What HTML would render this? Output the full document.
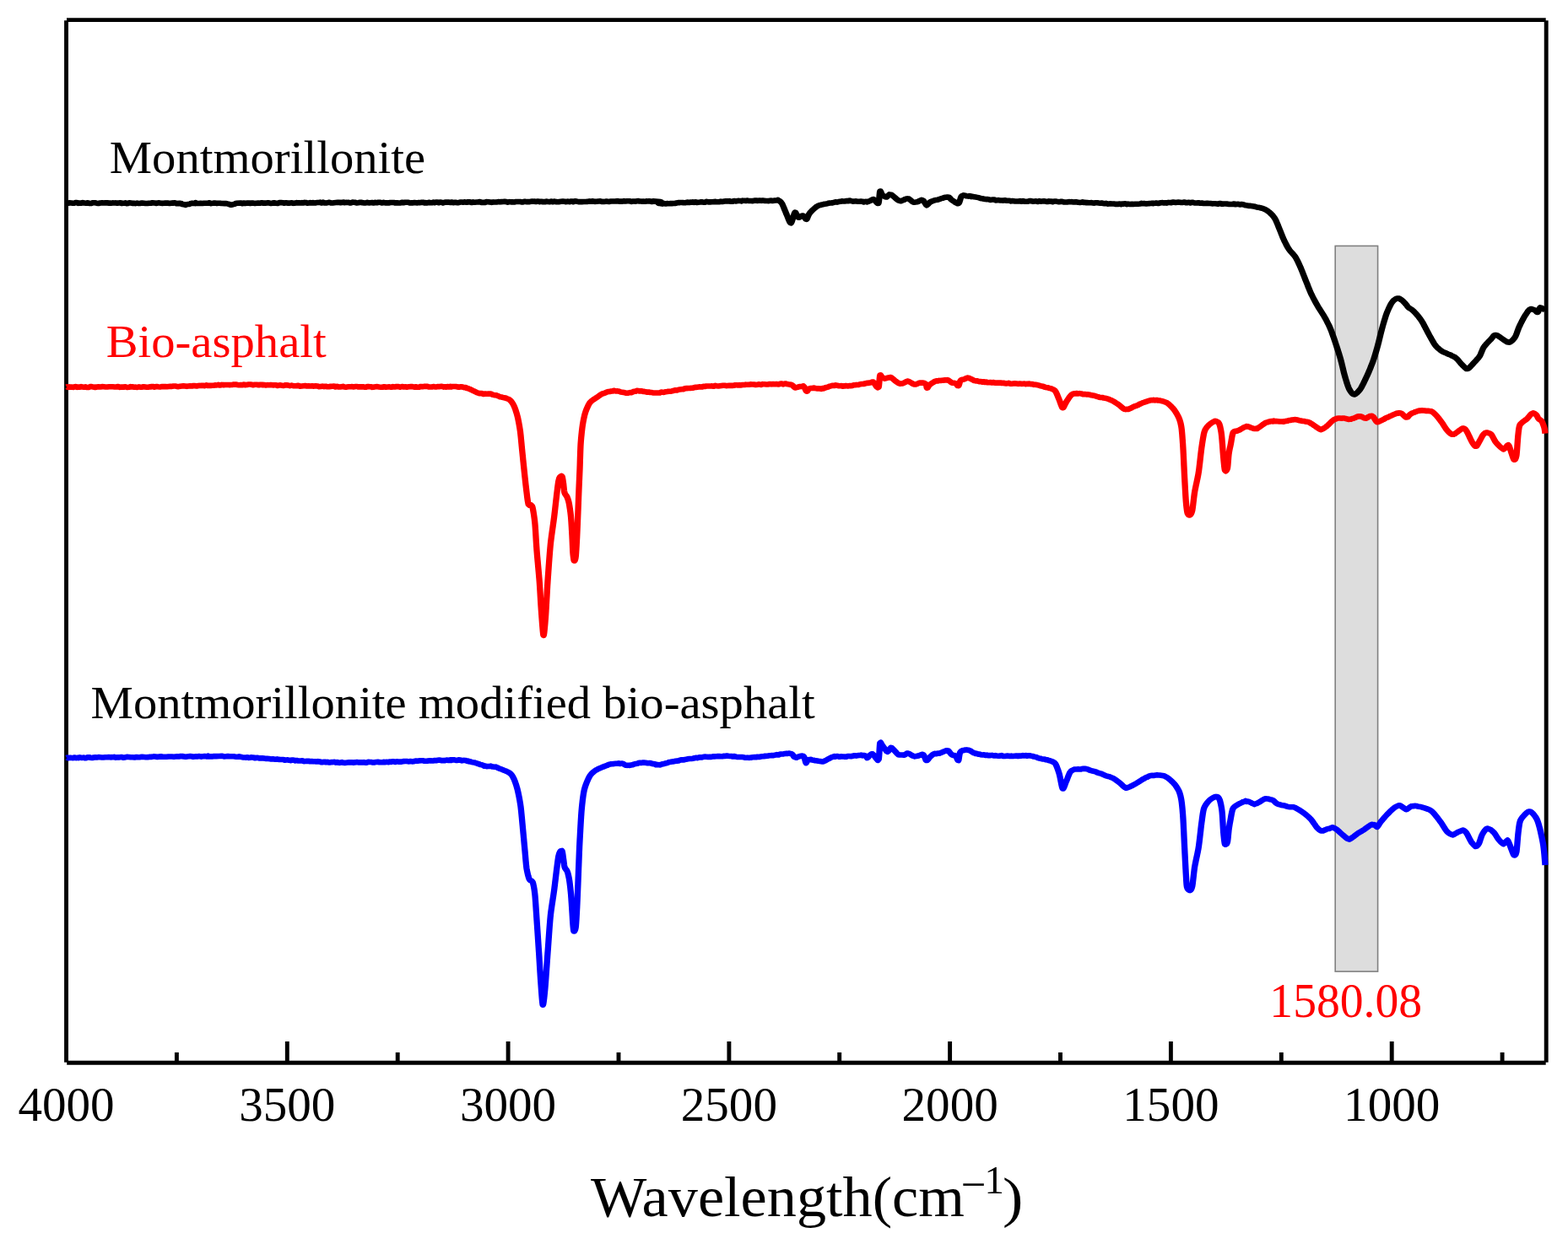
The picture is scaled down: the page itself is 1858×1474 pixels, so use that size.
<!DOCTYPE html>
<html><head><meta charset="utf-8"><title>FTIR spectra</title>
<style>
html,body{margin:0;padding:0;background:#fff;}
body{width:1858px;height:1474px;overflow:hidden;}
svg{display:block;}
text{font-family:"Liberation Serif","Times New Roman",serif;}
</style></head>
<body>
<svg width="1858" height="1474" viewBox="0 0 1858 1474">
<rect x="0" y="0" width="1858" height="1474" fill="#fff"/>
<rect x="1582.2" y="291.4" width="50.4" height="859.7" fill="#dddddd" stroke="#808080" stroke-width="1.6"/>
<g stroke="#000" stroke-width="4.9" fill="none" stroke-linecap="butt">
<line x1="79.0" y1="23.6" x2="1831.7" y2="23.6"/>
<line x1="79.2" y1="1259.2" x2="1831.7" y2="1259.2"/>
<line x1="78.55" y1="24.2" x2="78.55" y2="1258.7"/>
<line x1="1832.2" y1="24.2" x2="1832.2" y2="1258.7"/>
<line x1="340.3" y1="1259.2" x2="340.3" y2="1234"/>
<line x1="602.1" y1="1259.2" x2="602.1" y2="1234"/>
<line x1="863.9" y1="1259.2" x2="863.9" y2="1234"/>
<line x1="1125.6" y1="1259.2" x2="1125.6" y2="1234"/>
<line x1="1387.4" y1="1259.2" x2="1387.4" y2="1234"/>
<line x1="1649.2" y1="1259.2" x2="1649.2" y2="1234"/>
<line x1="209.4" y1="1259.2" x2="209.4" y2="1247"/>
<line x1="471.2" y1="1259.2" x2="471.2" y2="1247"/>
<line x1="733.0" y1="1259.2" x2="733.0" y2="1247"/>
<line x1="994.7" y1="1259.2" x2="994.7" y2="1247"/>
<line x1="1256.5" y1="1259.2" x2="1256.5" y2="1247"/>
<line x1="1518.3" y1="1259.2" x2="1518.3" y2="1247"/>
<line x1="1780.1" y1="1259.2" x2="1780.1" y2="1247"/>
</g>
<g><g fill="none" stroke-linejoin="round" stroke-linecap="butt" stroke-width="6.6" transform="scale(1.11,1)">
<path stroke="#000" d="M70.72,240.50 L71.40,240.17 L72.20,240.82 L73.09,240.74 L74.08,240.29 L75.17,240.51 L76.34,240.47 L77.60,240.66 L78.94,240.79 L80.35,240.17 L81.82,240.11 L83.37,240.84 L84.97,240.49 L86.62,240.79 L88.33,240.11 L90.08,240.52 L91.86,240.77 L93.69,240.33 L95.54,240.98 L97.42,240.95 L99.32,240.18 L101.23,240.18 L103.15,240.65 L105.08,241.01 L107.01,240.52 L108.93,240.37 L110.85,240.56 L112.75,240.22 L114.63,240.40 L116.49,240.60 L118.32,240.65 L120.11,240.42 L121.87,240.43 L123.58,240.42 L125.24,240.64 L126.86,240.49 L128.41,240.26 L129.90,240.99 L131.32,240.74 L132.67,240.82 L133.95,240.42 L135.14,241.14 L136.55,241.03 L138.04,240.36 L139.59,240.55 L141.19,240.90 L142.85,240.89 L144.55,241.09 L146.29,240.63 L148.06,241.00 L149.87,240.85 L151.69,240.52 L153.54,240.77 L155.40,241.03 L157.26,241.00 L159.13,240.69 L160.99,240.76 L162.84,240.26 L164.68,240.44 L166.50,240.94 L168.29,240.59 L170.05,240.37 L171.77,240.71 L173.45,240.85 L175.08,240.82 L176.66,240.55 L178.18,240.61 L179.63,240.67 L181.02,240.92 L182.33,240.69 L183.55,240.58 L184.70,240.67 L185.75,240.26 L186.70,240.28 L187.55,240.87 L188.29,241.12 L192.16,240.89 L193.23,240.95 L193.08,241.20 L193.33,241.40 L194.47,241.97 L195.78,242.20 L197.08,242.39 L198.20,242.82 L199.30,242.18 L200.57,242.05 L201.85,241.94 L202.97,241.45 L203.70,241.18 L204.34,240.83 L205.58,240.84 L208.11,241.09 L208.95,240.25 L210.01,240.94 L211.28,240.97 L212.72,241.03 L214.31,240.91 L216.02,240.98 L217.82,240.73 L219.69,240.78 L221.59,240.67 L223.51,240.36 L225.42,241.10 L227.29,240.85 L229.08,240.54 L230.79,240.83 L232.37,240.83 L233.80,240.73 L235.06,240.74 L236.11,240.92 L236.94,241.01 L239.79,241.09 L240.68,241.09 L241.44,241.00 L242.62,241.41 L244.05,241.78 L245.48,242.39 L246.67,242.82 L247.77,242.56 L249.00,242.20 L250.24,241.85 L251.35,241.26 L251.56,241.27 L251.36,241.29 L252.50,240.73 L256.76,240.58 L257.51,240.56 L258.37,241.20 L259.35,240.74 L260.43,240.60 L261.61,241.05 L262.88,240.78 L264.23,240.52 L265.67,240.59 L267.17,240.90 L268.75,240.56 L270.39,240.64 L272.08,241.01 L273.83,240.76 L275.62,240.63 L277.44,240.74 L279.30,240.32 L281.19,240.63 L283.10,240.64 L285.02,240.41 L286.95,240.32 L288.88,241.01 L290.81,240.64 L292.73,240.36 L294.63,240.69 L296.51,240.86 L298.37,240.14 L300.19,240.12 L301.98,240.21 L303.72,240.71 L305.41,240.19 L307.04,240.66 L308.61,240.62 L310.11,240.49 L311.54,240.19 L312.89,240.85 L314.15,240.68 L315.32,240.41 L316.74,240.14 L318.17,240.50 L319.60,240.26 L321.02,240.41 L322.45,240.17 L323.88,240.42 L325.32,239.90 L326.76,240.10 L328.21,240.67 L329.67,240.57 L331.13,240.05 L332.61,240.52 L334.10,240.02 L335.60,240.56 L337.11,240.37 L338.64,240.07 L340.18,239.91 L341.74,239.67 L343.32,240.43 L344.92,239.67 L346.54,240.35 L348.18,240.47 L349.84,240.11 L351.53,239.74 L353.24,240.36 L354.98,240.44 L356.74,240.19 L358.54,240.01 L360.36,239.89 L361.34,239.86 L362.36,239.73 L363.42,240.15 L364.53,239.94 L365.68,239.72 L366.88,239.64 L368.11,240.15 L369.38,239.82 L370.68,240.00 L372.02,239.85 L373.40,240.34 L374.80,240.37 L376.24,239.58 L377.71,239.75 L379.21,239.87 L380.73,240.46 L382.28,240.28 L383.85,239.89 L385.45,239.78 L387.07,240.20 L388.71,240.35 L390.37,240.44 L392.04,239.92 L393.74,240.41 L395.45,240.24 L397.17,240.06 L398.90,240.52 L400.65,239.85 L402.40,240.29 L404.17,239.72 L405.94,239.80 L407.72,240.47 L409.50,239.85 L411.28,240.35 L413.07,240.21 L414.86,240.43 L416.64,240.00 L418.43,239.98 L420.21,239.94 L421.98,240.46 L423.75,240.23 L425.52,240.54 L427.27,240.48 L429.01,239.81 L430.74,240.18 L432.46,239.78 L434.17,239.72 L435.86,239.75 L437.53,240.46 L439.18,240.39 L440.82,240.42 L442.43,239.98 L444.02,240.22 L445.59,240.37 L447.13,240.00 L448.65,240.16 L449.76,239.85 L450.90,239.71 L452.07,239.87 L453.28,240.42 L454.51,240.12 L455.78,240.44 L457.07,240.01 L458.39,239.84 L459.74,240.29 L461.11,240.31 L462.51,239.57 L463.94,240.15 L465.38,239.62 L466.85,239.63 L468.35,240.30 L469.86,239.54 L471.39,239.70 L472.95,240.35 L474.52,239.83 L476.11,239.55 L477.72,239.58 L479.34,239.63 L480.98,240.06 L482.64,239.47 L484.31,240.18 L485.99,239.69 L487.69,240.20 L489.39,240.12 L491.11,239.56 L492.84,239.51 L494.58,239.69 L496.32,239.34 L498.08,239.81 L499.84,239.25 L501.61,239.20 L503.38,240.05 L505.16,239.42 L506.94,239.67 L508.72,239.52 L510.51,239.38 L512.29,239.14 L514.08,239.88 L515.87,239.91 L517.66,239.89 L519.44,239.11 L521.22,239.19 L523.00,239.53 L524.78,239.83 L526.55,239.42 L528.31,239.53 L530.07,239.49 L531.82,239.12 L533.56,239.35 L535.29,239.13 L537.01,239.06 L538.72,238.89 L540.43,239.05 L542.11,239.66 L543.79,239.17 L545.45,239.34 L547.10,239.31 L548.73,239.56 L550.34,239.06 L551.94,238.97 L553.52,238.98 L555.09,238.95 L556.63,239.41 L558.15,239.44 L559.65,238.90 L561.13,238.92 L562.59,239.10 L564.02,239.12 L565.43,239.12 L566.82,238.80 L568.17,238.59 L569.51,238.78 L570.81,238.62 L572.09,239.04 L573.41,238.60 L574.76,238.60 L576.16,239.09 L577.59,238.77 L579.05,239.21 L580.55,238.94 L582.08,239.26 L583.64,238.62 L585.23,238.92 L586.85,239.17 L588.49,238.52 L590.17,239.29 L591.87,238.59 L593.59,239.12 L595.33,239.29 L597.10,239.14 L598.88,238.68 L600.68,238.48 L602.51,238.84 L604.34,239.19 L606.20,238.62 L608.06,239.15 L609.94,238.46 L611.84,239.14 L613.74,238.35 L615.65,238.59 L617.57,239.11 L619.49,239.01 L621.42,239.09 L623.36,239.03 L625.29,238.93 L627.23,238.87 L629.17,238.41 L631.11,238.63 L633.05,238.37 L634.98,238.86 L636.91,238.81 L638.83,238.43 L640.75,238.26 L642.66,239.05 L644.56,238.91 L646.45,238.67 L648.32,238.65 L650.19,238.93 L652.04,238.56 L653.87,238.51 L655.69,238.45 L657.49,238.37 L659.27,238.16 L661.03,238.71 L662.77,238.50 L664.49,238.63 L666.18,238.17 L667.85,238.43 L669.49,238.23 L671.10,238.22 L672.68,238.34 L674.24,238.85 L675.76,238.46 L677.25,238.46 L678.71,238.65 L680.13,238.31 L681.51,238.10 L682.86,238.57 L684.17,238.55 L685.44,238.68 L686.67,238.49 L687.85,238.72 L689.00,238.76 L690.09,238.32 L691.15,238.56 L692.15,238.55 L693.11,238.32 L694.01,238.50 L694.87,238.63 L695.67,238.95 L696.42,238.96 L697.12,238.41 L705.18,239.05 L705.90,239.46 L703.62,239.85 L702.70,240.50 L703.61,240.96 L704.52,240.73 L705.64,241.36 L707.16,241.61 L709.28,241.13 L710.12,241.44 L711.07,241.53 L712.13,241.07 L713.29,241.27 L714.56,241.22 L715.92,241.01 L717.37,241.13 L718.91,241.06 L720.53,241.00 L722.23,240.57 L724.00,240.13 L725.84,240.08 L727.74,239.94 L729.70,240.14 L731.72,240.20 L733.78,239.52 L734.74,240.02 L735.80,240.01 L736.95,239.65 L738.19,239.75 L739.51,239.41 L740.92,239.85 L742.39,239.20 L743.94,239.96 L745.54,239.76 L747.20,239.55 L748.92,239.19 L750.67,239.69 L752.47,239.67 L754.30,238.90 L756.16,239.40 L758.04,239.40 L759.94,239.18 L761.85,239.16 L763.76,238.88 L765.67,239.24 L767.58,239.22 L769.48,238.65 L771.36,238.96 L773.22,238.59 L775.05,238.30 L776.85,238.39 L778.60,238.16 L780.32,238.79 L781.98,238.79 L783.59,238.02 L785.13,238.39 L786.61,238.18 L788.01,237.89 L789.34,238.01 L790.58,237.94 L791.74,238.34 L792.79,237.67 L794.51,237.79 L796.28,237.97 L798.08,237.56 L799.91,238.06 L801.75,238.01 L803.60,238.19 L805.46,237.60 L807.30,237.65 L809.12,237.85 L810.92,237.59 L812.68,237.85 L814.39,237.53 L816.05,237.89 L817.65,237.97 L819.17,237.97 L820.61,238.10 L821.96,237.71 L823.21,237.64 L824.35,237.95 L825.37,237.86 L826.27,237.68 L827.03,237.50 L829.98,237.24 L830.36,236.88 L830.63,237.50 L831.52,237.73 L832.58,238.51 L833.67,239.53 L834.68,241.00 L835.10,241.85 L835.58,243.00 L836.12,244.36 L836.69,245.88 L837.28,247.50 L837.87,249.13 L838.45,250.73 L838.99,252.21 L839.48,253.53 L839.91,254.60 L840.50,256.14 L841.14,257.95 L841.82,259.84 L842.50,261.62 L843.16,263.09 L843.78,264.05 L844.32,264.30 L844.75,263.80 L845.22,262.66 L845.73,261.06 L846.26,259.19 L846.80,257.20 L847.32,255.28 L847.82,253.61 L848.26,252.36 L848.65,251.70 L849.30,251.91 L850.00,253.20 L850.72,254.98 L851.45,256.62 L852.16,257.61 L853.31,257.60 L854.77,256.51 L856.24,255.60 L857.39,255.56 L858.30,256.40 L859.23,258.02 L860.13,259.51 L860.90,259.90 L861.36,259.47 L861.84,258.39 L862.35,256.96 L862.92,255.39 L863.57,253.87 L864.32,252.60 L865.06,251.67 L866.01,250.55 L867.12,249.31 L868.34,248.02 L869.60,246.77 L870.84,245.61 L872.02,244.63 L873.06,243.93 L874.24,243.35 L875.54,243.01 L876.97,242.52 L878.50,242.20 L880.13,241.82 L881.83,241.54 L883.60,241.07 L884.60,240.71 L885.79,240.44 L887.13,240.53 L888.60,240.40 L890.18,239.91 L891.83,239.36 L893.53,239.60 L895.25,239.09 L896.97,238.84 L898.65,238.30 L900.27,238.47 L901.81,238.49 L903.23,238.11 L904.50,237.98 L905.79,238.21 L907.23,237.67 L908.80,238.15 L910.46,238.60 L912.18,238.50 L913.94,238.39 L915.70,238.75 L917.43,238.82 L919.10,238.62 L920.68,238.73 L922.14,239.38 L923.45,238.91 L924.58,238.75 L925.50,239.34 L927.49,238.69 L929.08,237.86 L930.36,237.04 L931.45,236.49 L932.43,236.00 L933.51,236.92 L934.70,238.37 L935.88,239.94 L936.91,240.97 L937.66,241.01 L937.92,240.31 L938.15,239.12 L938.35,237.54 L938.53,235.71 L938.69,233.75 L938.84,231.79 L938.99,229.96 L939.14,228.38 L939.29,227.19 L939.46,226.50 L939.99,226.58 L940.64,228.08 L941.36,229.99 L942.07,231.30 L943.35,232.24 L944.96,233.18 L946.40,233.51 L947.32,232.69 L948.34,231.51 L949.50,230.36 L950.81,230.65 L951.66,230.79 L952.75,231.70 L954.01,232.88 L955.37,234.19 L956.76,235.51 L958.10,236.70 L959.33,237.53 L960.36,237.86 L961.71,238.25 L963.25,237.52 L964.86,236.89 L966.45,235.89 L967.90,235.50 L969.10,235.37 L970.19,235.58 L971.36,236.50 L972.57,237.60 L973.77,238.70 L974.94,239.47 L976.04,239.76 L977.29,239.58 L978.84,239.31 L980.53,238.64 L982.19,237.61 L983.66,236.90 L984.77,237.21 L985.80,237.84 L986.75,239.27 L987.64,240.92 L988.45,242.32 L989.19,243.23 L990.11,242.62 L991.14,241.49 L992.27,240.13 L993.51,239.08 L994.60,238.62 L996.01,238.05 L997.62,237.42 L999.28,236.94 L1000.88,236.80 L1002.25,236.18 L1003.46,235.83 L1004.91,235.12 L1006.49,234.80 L1008.09,234.06 L1009.60,233.74 L1010.90,233.67 L1011.89,233.64 L1013.14,233.74 L1014.18,234.86 L1015.16,236.09 L1016.22,237.10 L1017.17,237.78 L1018.40,238.72 L1019.77,239.74 L1021.14,240.47 L1022.34,241.25 L1023.24,241.08 L1023.88,240.21 L1024.44,238.72 L1024.95,236.84 L1025.47,234.93 L1026.03,233.30 L1026.67,232.30 L1027.58,231.74 L1028.67,231.33 L1030.01,231.71 L1031.67,232.24 L1033.69,232.59 L1034.60,232.11 L1035.69,232.34 L1036.96,233.11 L1038.37,232.86 L1039.89,233.33 L1041.51,233.55 L1043.18,233.88 L1044.90,234.19 L1046.64,234.94 L1048.36,235.35 L1050.04,235.62 L1051.65,236.01 L1053.18,236.13 L1054.59,236.12 L1055.76,236.44 L1057.02,236.84 L1058.37,236.72 L1059.80,236.54 L1061.30,236.52 L1062.86,237.36 L1064.46,237.21 L1066.10,237.13 L1067.77,237.46 L1069.45,237.54 L1071.14,237.61 L1072.83,237.33 L1074.50,237.67 L1076.14,237.81 L1077.75,237.71 L1079.31,238.36 L1080.81,238.04 L1081.95,238.28 L1083.18,238.37 L1084.50,238.43 L1085.89,238.44 L1087.36,238.50 L1088.89,238.09 L1090.48,238.75 L1092.11,238.05 L1093.78,238.75 L1095.49,238.72 L1097.22,238.74 L1098.97,238.05 L1100.73,238.10 L1102.49,238.76 L1104.24,238.48 L1105.98,238.41 L1107.70,238.98 L1109.38,238.16 L1111.04,238.62 L1112.64,238.57 L1114.20,238.31 L1115.69,238.58 L1117.12,238.88 L1118.30,239.06 L1119.58,238.34 L1120.93,238.81 L1122.36,238.46 L1123.85,239.12 L1125.40,238.53 L1127.01,238.52 L1128.66,238.87 L1130.34,239.21 L1132.07,238.89 L1133.81,238.78 L1135.57,239.40 L1137.35,239.46 L1139.13,239.54 L1140.91,239.11 L1142.68,239.26 L1144.43,239.16 L1146.16,239.48 L1147.86,239.33 L1149.53,239.38 L1151.15,239.82 L1152.72,240.01 L1154.24,239.74 L1155.69,239.38 L1157.07,239.89 L1158.37,239.77 L1159.59,240.27 L1160.72,240.09 L1162.18,240.25 L1163.66,240.21 L1165.17,240.16 L1166.69,240.55 L1168.24,240.60 L1169.79,240.27 L1171.36,240.27 L1172.94,240.56 L1174.52,240.80 L1176.11,240.58 L1177.69,240.90 L1179.27,241.20 L1180.84,240.87 L1182.41,241.61 L1183.96,241.57 L1185.49,241.38 L1187.00,241.45 L1188.49,241.56 L1189.95,241.59 L1191.39,241.99 L1192.79,241.80 L1193.96,241.83 L1195.23,241.49 L1196.59,242.17 L1198.04,241.63 L1199.55,241.60 L1201.13,241.35 L1202.77,242.11 L1204.45,241.63 L1206.17,241.96 L1207.93,241.92 L1209.71,241.91 L1211.50,241.72 L1213.30,241.75 L1215.10,241.69 L1216.89,241.52 L1218.66,240.89 L1220.40,241.16 L1222.11,241.15 L1223.77,241.45 L1225.39,241.21 L1226.94,241.09 L1228.43,241.07 L1229.83,240.69 L1231.16,241.15 L1232.39,240.86 L1233.51,240.62 L1234.99,240.63 L1236.48,241.02 L1237.98,240.58 L1239.49,240.21 L1241.00,240.14 L1242.53,240.54 L1244.06,240.37 L1245.60,240.60 L1247.15,239.92 L1248.69,240.06 L1250.24,240.28 L1251.79,239.64 L1253.35,239.64 L1254.90,239.99 L1256.45,239.72 L1258.00,239.55 L1259.54,239.68 L1261.08,240.01 L1262.61,239.92 L1263.71,239.54 L1264.92,239.56 L1266.24,240.27 L1267.65,240.13 L1269.15,239.77 L1270.73,240.41 L1272.37,239.74 L1274.07,240.09 L1275.82,240.57 L1277.61,240.52 L1279.44,240.22 L1281.28,240.81 L1283.14,240.63 L1285.00,240.93 L1286.85,241.03 L1288.69,240.71 L1290.50,240.99 L1292.28,240.96 L1294.02,241.37 L1295.71,241.32 L1297.33,241.32 L1298.88,241.46 L1300.36,241.68 L1301.75,241.11 L1303.03,241.12 L1304.21,241.63 L1305.28,241.69 L1306.22,241.51 L1308.37,241.57 L1310.40,241.58 L1312.30,242.06 L1314.09,242.05 L1315.76,241.94 L1317.32,241.54 L1318.78,242.30 L1320.15,242.03 L1321.41,241.88 L1322.60,242.05 L1323.69,242.45 L1325.20,242.05 L1326.76,242.33 L1328.36,242.68 L1329.94,243.33 L1331.47,243.45 L1332.90,243.84 L1334.20,243.74 L1335.32,243.95 L1336.76,244.19 L1338.31,244.48 L1339.90,244.82 L1341.44,245.34 L1342.85,245.75 L1344.05,245.75 L1345.47,246.30 L1347.04,246.66 L1348.65,247.25 L1350.13,247.97 L1351.35,248.62 L1352.49,249.38 L1353.74,250.37 L1355.00,251.48 L1356.16,252.60 L1357.12,253.60 L1357.99,254.62 L1358.92,255.83 L1359.87,257.16 L1360.76,258.57 L1361.53,260.00 L1362.00,261.04 L1362.53,262.33 L1363.09,263.80 L1363.68,265.38 L1364.26,266.99 L1364.83,268.59 L1365.37,270.08 L1365.86,271.40 L1366.29,272.59 L1366.79,273.97 L1367.33,275.48 L1367.90,277.06 L1368.49,278.68 L1369.06,280.26 L1369.63,281.76 L1370.15,283.12 L1370.63,284.30 L1371.18,285.58 L1371.80,286.98 L1372.47,288.47 L1373.18,289.98 L1373.90,291.47 L1374.62,292.89 L1375.30,294.18 L1375.95,295.30 L1376.65,296.36 L1377.49,297.50 L1378.43,298.69 L1379.41,299.91 L1380.40,301.13 L1381.34,302.34 L1382.18,303.50 L1382.88,304.60 L1383.45,305.63 L1384.04,306.80 L1384.65,308.09 L1385.27,309.46 L1385.89,310.88 L1386.51,312.33 L1387.10,313.77 L1387.67,315.17 L1388.20,316.50 L1388.61,317.56 L1389.08,318.81 L1389.58,320.19 L1390.13,321.69 L1390.69,323.26 L1391.26,324.88 L1391.83,326.50 L1392.40,328.09 L1392.94,329.62 L1393.45,331.05 L1393.91,332.36 L1394.32,333.50 L1394.80,334.82 L1395.31,336.24 L1395.84,337.73 L1396.39,339.27 L1396.95,340.83 L1397.51,342.38 L1398.06,343.89 L1398.61,345.33 L1399.14,346.68 L1399.64,347.90 L1400.17,349.14 L1400.79,350.51 L1401.47,352.00 L1402.19,353.55 L1402.95,355.14 L1403.71,356.72 L1404.46,358.27 L1405.19,359.74 L1405.87,361.09 L1406.49,362.30 L1407.12,363.49 L1407.85,364.80 L1408.65,366.20 L1409.49,367.66 L1410.35,369.14 L1411.21,370.62 L1412.05,372.07 L1412.83,373.45 L1413.54,374.74 L1414.14,375.90 L1414.72,377.05 L1415.34,378.32 L1415.99,379.67 L1416.65,381.08 L1417.32,382.53 L1417.98,384.00 L1418.62,385.45 L1419.22,386.87 L1419.77,388.23 L1420.27,389.50 L1420.67,390.60 L1421.11,391.83 L1421.56,393.19 L1422.04,394.63 L1422.52,396.14 L1423.01,397.69 L1423.50,399.26 L1423.98,400.81 L1424.44,402.33 L1424.89,403.78 L1425.30,405.15 L1425.68,406.40 L1426.02,407.56 L1426.41,408.85 L1426.82,410.23 L1427.25,411.70 L1427.69,413.22 L1428.15,414.79 L1428.60,416.37 L1429.05,417.95 L1429.49,419.51 L1429.91,421.03 L1430.30,422.48 L1430.67,423.84 L1430.99,425.10 L1431.28,426.29 L1431.60,427.61 L1431.93,429.05 L1432.27,430.57 L1432.61,432.15 L1432.97,433.78 L1433.32,435.42 L1433.68,437.05 L1434.03,438.66 L1434.37,440.21 L1434.70,441.68 L1435.01,443.05 L1435.31,444.30 L1435.59,445.40 L1435.98,446.90 L1436.41,448.53 L1436.87,450.24 L1437.35,451.99 L1437.85,453.73 L1438.34,455.41 L1438.84,456.99 L1439.31,458.43 L1439.76,459.68 L1440.18,460.70 L1440.92,462.23 L1441.79,463.77 L1442.73,465.21 L1443.69,466.39 L1444.63,467.10 L1445.50,467.34 L1446.28,467.33 L1447.22,466.68 L1448.26,465.82 L1449.35,464.71 L1450.42,463.44 L1451.44,462.08 L1452.34,460.70 L1452.86,459.79 L1453.45,458.65 L1454.10,457.34 L1454.78,455.89 L1455.49,454.33 L1456.21,452.70 L1456.93,451.05 L1457.63,449.41 L1458.30,447.82 L1458.93,446.31 L1459.50,444.92 L1460.00,443.70 L1460.48,442.50 L1460.99,441.19 L1461.53,439.79 L1462.09,438.31 L1462.65,436.79 L1463.22,435.25 L1463.77,433.71 L1464.31,432.19 L1464.82,430.71 L1465.30,429.31 L1465.74,428.00 L1466.13,426.80 L1466.49,425.61 L1466.88,424.32 L1467.27,422.94 L1467.68,421.49 L1468.09,419.99 L1468.50,418.47 L1468.91,416.94 L1469.30,415.41 L1469.69,413.92 L1470.05,412.47 L1470.40,411.09 L1470.72,409.80 L1471.00,408.66 L1471.30,407.37 L1471.62,405.97 L1471.95,404.47 L1472.30,402.90 L1472.66,401.29 L1473.02,399.65 L1473.38,398.01 L1473.73,396.40 L1474.08,394.83 L1474.42,393.33 L1474.74,391.93 L1475.04,390.64 L1475.32,389.50 L1475.64,388.19 L1475.99,386.78 L1476.37,385.29 L1476.77,383.74 L1477.18,382.17 L1477.60,380.59 L1478.02,379.03 L1478.43,377.53 L1478.83,376.09 L1479.22,374.76 L1479.58,373.55 L1479.91,372.50 L1480.37,371.14 L1480.90,369.67 L1481.48,368.15 L1482.08,366.61 L1482.69,365.11 L1483.29,363.69 L1483.85,362.40 L1484.35,361.29 L1484.77,360.40 L1485.69,358.77 L1486.66,357.34 L1487.62,356.17 L1488.47,355.30 L1489.73,354.36 L1491.20,353.45 L1492.52,353.49 L1493.52,353.60 L1494.71,354.38 L1495.91,355.19 L1496.94,356.00 L1497.77,356.84 L1498.75,357.96 L1499.76,359.20 L1500.67,360.34 L1501.35,361.20 L1502.07,362.27 L1502.67,363.27 L1503.42,364.20 L1504.38,364.98 L1505.68,365.88 L1507.07,366.86 L1508.29,367.90 L1509.09,368.75 L1510.06,369.86 L1511.11,371.10 L1512.15,372.38 L1513.10,373.58 L1513.87,374.60 L1514.72,375.78 L1515.63,377.12 L1516.55,378.55 L1517.43,379.97 L1518.20,381.30 L1518.75,382.34 L1519.38,383.60 L1520.05,385.00 L1520.75,386.46 L1521.43,387.90 L1522.06,389.24 L1522.61,390.40 L1523.16,391.54 L1523.77,392.85 L1524.43,394.25 L1525.11,395.68 L1525.79,397.10 L1526.43,398.42 L1527.03,399.60 L1527.65,400.82 L1528.38,402.26 L1529.18,403.82 L1530.02,405.41 L1530.86,406.93 L1531.68,408.29 L1532.43,409.40 L1533.20,410.37 L1534.06,411.39 L1535.01,412.41 L1536.04,413.43 L1537.13,414.42 L1538.28,415.35 L1539.46,416.23 L1540.46,416.84 L1541.72,417.49 L1543.18,418.06 L1544.78,419.05 L1546.45,419.92 L1548.11,420.46 L1549.71,421.41 L1551.17,422.12 L1552.43,422.81 L1553.42,423.51 L1554.59,424.51 L1555.71,425.71 L1556.78,427.02 L1557.78,428.36 L1558.71,429.64 L1559.57,430.78 L1560.36,431.70 L1561.30,432.75 L1562.34,433.96 L1563.42,435.18 L1564.51,436.22 L1565.55,437.03 L1566.49,437.07 L1567.33,436.72 L1568.32,435.89 L1569.40,434.75 L1570.51,433.44 L1571.59,432.08 L1572.58,430.83 L1573.42,429.80 L1574.24,428.86 L1575.15,427.80 L1576.12,426.66 L1577.10,425.47 L1578.03,424.27 L1578.86,423.10 L1579.55,422.00 L1580.08,420.95 L1580.60,419.69 L1581.13,418.28 L1581.67,416.80 L1582.22,415.30 L1582.78,413.85 L1583.36,412.53 L1583.96,411.40 L1584.70,410.29 L1585.63,409.02 L1586.70,407.65 L1587.84,406.26 L1588.99,404.91 L1590.07,403.66 L1591.03,402.56 L1591.80,401.70 L1592.78,400.39 L1593.69,398.98 L1594.64,397.74 L1595.71,397.14 L1597.03,397.12 L1597.91,397.21 L1599.06,397.85 L1600.42,398.84 L1601.91,400.01 L1603.47,401.25 L1605.04,402.49 L1606.55,403.59 L1607.94,404.60 L1609.14,405.28 L1610.09,405.54 L1611.44,405.64 L1612.77,404.86 L1614.04,403.73 L1615.22,402.43 L1616.26,401.07 L1617.12,399.80 L1617.69,398.75 L1618.25,397.42 L1618.81,395.89 L1619.37,394.24 L1619.91,392.55 L1620.44,390.91 L1620.95,389.40 L1621.44,388.10 L1621.97,386.83 L1622.58,385.38 L1623.26,383.81 L1623.96,382.20 L1624.68,380.60 L1625.39,379.07 L1626.06,377.69 L1626.67,376.50 L1627.30,375.32 L1628.05,373.96 L1628.87,372.51 L1629.73,371.05 L1630.59,369.66 L1631.41,368.43 L1632.16,367.45 L1632.79,366.78 L1634.08,366.05 L1635.54,366.35 L1636.92,366.80 L1638.02,367.24 L1639.27,368.34 L1640.52,369.72 L1641.53,370.01 L1642.17,369.20 L1642.84,367.35 L1643.51,365.47 L1644.14,364.44 L1645.26,364.67 L1646.61,365.50 L1647.66,366.23 L1648.78,366.82 L1649.55,367.30"/>
<path stroke="#ff0000" d="M71.17,458.60 L71.84,458.27 L72.58,458.91 L73.40,458.83 L74.28,458.37 L75.24,458.59 L76.26,458.55 L77.34,458.73 L78.49,458.85 L79.69,458.22 L80.95,458.16 L82.27,458.89 L83.64,458.53 L85.05,458.82 L86.52,458.14 L88.03,458.53 L89.58,458.78 L91.18,458.34 L92.81,458.98 L94.48,458.94 L96.18,458.16 L97.92,458.15 L99.68,458.61 L101.47,458.97 L103.29,458.47 L105.13,458.32 L106.99,458.50 L108.87,458.15 L110.76,458.32 L112.67,458.51 L114.59,458.56 L116.51,458.32 L118.45,458.31 L120.39,458.30 L122.33,458.51 L124.27,458.36 L126.21,458.11 L128.14,458.84 L130.06,458.58 L131.98,458.65 L133.89,458.24 L135.78,458.96 L137.65,458.83 L139.51,458.16 L141.35,458.35 L143.16,458.69 L144.95,458.67 L146.71,458.86 L148.44,458.39 L150.14,458.75 L151.81,458.60 L153.44,458.26 L155.02,458.50 L156.57,458.75 L158.08,458.71 L159.54,458.39 L160.95,458.45 L162.31,457.95 L163.62,458.12 L164.87,458.60 L166.07,458.24 L167.21,458.01 L168.69,458.32 L170.22,458.43 L171.77,458.37 L173.36,458.08 L174.97,458.10 L176.61,458.12 L178.28,458.31 L179.97,458.05 L181.68,457.89 L183.41,457.92 L185.15,457.47 L186.91,457.44 L188.68,457.95 L190.47,458.14 L192.25,457.75 L194.05,457.52 L195.85,457.27 L197.65,457.49 L199.44,457.85 L201.24,457.60 L203.03,457.34 L204.82,457.56 L206.59,456.95 L208.35,457.14 L210.10,457.45 L211.84,457.07 L213.56,456.91 L215.25,456.68 L216.93,456.86 L218.58,457.16 L220.20,456.28 L221.80,456.90 L223.37,456.87 L224.90,456.88 L226.40,456.70 L227.86,456.71 L229.29,456.42 L230.67,456.41 L232.01,456.25 L233.30,455.89 L234.55,456.56 L235.75,456.26 L236.89,455.91 L237.99,456.15 L239.02,456.11 L240.00,455.97 L241.84,455.93 L243.57,456.06 L245.21,456.11 L246.76,456.07 L248.24,455.91 L249.66,455.51 L251.03,455.67 L252.37,455.61 L253.68,455.97 L254.98,456.21 L256.29,456.15 L257.60,456.15 L258.94,456.17 L260.31,455.67 L261.74,456.20 L263.22,456.07 L264.78,455.56 L266.42,455.52 L268.15,455.54 L270.00,456.23 L271.97,455.81 L274.06,455.72 L276.31,456.21 L277.21,455.98 L278.16,455.75 L279.17,455.85 L280.23,456.20 L281.33,455.91 L282.48,456.02 L283.68,456.43 L284.92,456.24 L286.21,456.15 L287.53,456.32 L288.90,455.96 L290.30,456.31 L291.74,456.37 L293.21,456.21 L294.72,456.18 L296.26,456.90 L297.83,456.60 L299.43,456.38 L301.05,456.77 L302.70,457.00 L304.37,456.35 L306.07,456.39 L307.79,456.55 L309.52,457.09 L311.28,456.65 L313.05,457.17 L314.84,457.19 L316.64,457.12 L318.45,456.89 L320.27,457.59 L322.10,457.48 L323.93,457.28 L325.77,457.08 L327.62,457.49 L329.47,457.32 L331.32,457.52 L333.17,457.35 L335.01,457.66 L336.86,457.21 L338.69,457.46 L340.52,458.09 L342.35,458.05 L344.16,457.59 L345.96,458.12 L347.75,457.68 L349.52,458.27 L351.28,458.13 L353.02,457.88 L354.74,457.78 L356.44,457.60 L358.12,458.39 L359.77,457.69 L361.40,458.40 L363.00,458.56 L364.57,458.24 L366.12,457.91 L367.63,458.55 L369.11,458.67 L370.55,458.45 L371.96,458.29 L373.33,458.19 L374.55,458.18 L375.82,458.06 L377.12,458.49 L378.47,458.28 L379.86,458.08 L381.29,458.00 L382.76,458.51 L384.27,458.19 L385.80,458.38 L387.37,458.22 L388.98,458.72 L390.61,458.74 L392.27,457.95 L393.96,458.12 L395.67,458.23 L397.41,458.83 L399.17,458.64 L400.95,458.24 L402.75,458.13 L404.56,458.54 L406.39,458.68 L408.24,458.77 L410.10,458.23 L411.97,458.71 L413.85,458.53 L415.74,458.35 L417.63,458.79 L419.53,458.11 L421.43,458.55 L423.34,457.97 L425.24,458.04 L427.14,458.70 L429.05,458.07 L430.94,458.55 L432.83,458.40 L434.71,458.61 L436.59,458.18 L438.45,458.15 L440.30,458.10 L442.14,458.61 L443.96,458.37 L445.77,458.68 L447.55,458.61 L449.32,457.93 L451.06,458.30 L452.79,457.90 L454.48,457.83 L456.15,457.86 L457.80,458.57 L459.41,458.50 L460.99,458.53 L462.55,458.09 L464.06,458.34 L465.54,458.48 L466.99,458.12 L468.39,458.29 L469.76,457.98 L471.08,457.86 L472.36,458.03 L473.60,458.59 L474.78,458.30 L475.92,458.63 L477.02,458.21 L478.06,458.06 L479.04,458.52 L479.98,458.56 L480.85,457.85 L481.67,458.44 L482.43,457.94 L486.53,458.04 L489.73,458.80 L492.17,458.20 L493.97,458.51 L495.26,459.23 L496.16,458.99 L496.81,459.04 L497.33,459.30 L497.84,459.56 L498.48,460.05 L499.37,459.99 L500.70,460.84 L502.09,461.22 L503.52,462.13 L504.95,462.90 L506.38,463.56 L507.78,464.33 L509.12,465.11 L510.38,465.52 L511.53,466.19 L512.89,466.03 L514.46,466.13 L516.15,467.03 L517.91,466.46 L519.65,466.74 L521.30,466.64 L522.80,466.60 L524.05,466.59 L525.40,467.45 L526.85,467.86 L528.35,468.31 L529.85,468.38 L531.31,468.96 L532.67,469.64 L533.87,470.26 L535.13,470.41 L536.60,470.92 L538.18,471.36 L539.78,471.62 L541.28,472.29 L542.59,472.75 L543.60,473.37 L544.56,474.21 L545.47,475.24 L546.32,476.42 L547.12,477.71 L547.83,479.05 L548.47,480.40 L548.88,481.41 L549.34,482.65 L549.82,484.05 L550.31,485.58 L550.79,487.19 L551.26,488.82 L551.70,490.43 L552.09,491.97 L552.43,493.40 L552.67,494.49 L552.92,495.73 L553.18,497.10 L553.44,498.55 L553.71,500.09 L553.97,501.67 L554.23,503.27 L554.48,504.87 L554.72,506.45 L554.94,507.98 L555.14,509.44 L555.32,510.80 L555.46,512.00 L555.60,513.34 L555.75,514.80 L555.90,516.37 L556.05,518.01 L556.20,519.71 L556.35,521.44 L556.50,523.17 L556.64,524.89 L556.79,526.58 L556.92,528.21 L557.06,529.75 L557.18,531.19 L557.30,532.50 L557.42,533.80 L557.54,535.21 L557.68,536.70 L557.82,538.27 L557.97,539.89 L558.12,541.56 L558.27,543.24 L558.42,544.93 L558.58,546.60 L558.73,548.25 L558.87,549.85 L559.02,551.39 L559.15,552.84 L559.28,554.20 L559.39,555.41 L559.52,556.74 L559.65,558.17 L559.80,559.69 L559.95,561.27 L560.10,562.91 L560.26,564.58 L560.42,566.26 L560.59,567.94 L560.75,569.60 L560.91,571.22 L561.06,572.78 L561.21,574.27 L561.36,575.66 L561.49,576.94 L561.62,578.10 L561.78,579.52 L561.94,581.08 L562.12,582.75 L562.31,584.49 L562.50,586.27 L562.70,588.05 L562.90,589.80 L563.11,591.48 L563.32,593.06 L563.53,594.49 L563.74,595.75 L563.94,596.80 L564.14,597.60 L565.35,598.68 L566.87,598.34 L568.11,599.80 L568.33,600.58 L568.55,601.58 L568.79,602.77 L569.04,604.12 L569.28,605.60 L569.53,607.20 L569.77,608.88 L570.01,610.62 L570.23,612.39 L570.45,614.17 L570.65,615.94 L570.83,617.65 L570.99,619.30 L571.08,620.35 L571.18,621.53 L571.27,622.81 L571.37,624.18 L571.46,625.64 L571.55,627.18 L571.65,628.78 L571.74,630.43 L571.84,632.13 L571.93,633.86 L572.03,635.61 L572.12,637.37 L572.22,639.13 L572.31,640.87 L572.41,642.60 L572.50,644.29 L572.60,645.94 L572.69,647.54 L572.79,649.07 L572.88,650.53 L572.97,651.90 L573.06,653.10 L573.15,654.39 L573.26,655.75 L573.37,657.19 L573.48,658.68 L573.61,660.23 L573.73,661.83 L573.86,663.46 L574.00,665.13 L574.14,666.82 L574.27,668.52 L574.41,670.24 L574.55,671.96 L574.69,673.67 L574.83,675.37 L574.96,677.04 L575.10,678.69 L575.22,680.30 L575.35,681.87 L575.46,683.39 L575.57,684.85 L575.68,686.24 L575.77,687.56 L575.86,688.80 L575.94,690.15 L576.04,691.57 L576.13,693.07 L576.22,694.63 L576.31,696.24 L576.40,697.90 L576.50,699.60 L576.59,701.32 L576.69,703.07 L576.78,704.82 L576.87,706.58 L576.97,708.33 L577.06,710.07 L577.15,711.78 L577.24,713.46 L577.33,715.10 L577.42,716.69 L577.51,718.22 L577.59,719.69 L577.68,721.08 L577.76,722.39 L577.84,723.60 L577.93,725.04 L578.04,726.63 L578.15,728.36 L578.27,730.19 L578.39,732.11 L578.52,734.08 L578.66,736.07 L578.79,738.07 L578.93,740.05 L579.07,741.98 L579.21,743.84 L579.34,745.59 L579.48,747.22 L579.61,748.70 L579.74,750.00 L579.86,751.09 L579.97,751.96 L580.08,752.57 L580.18,752.90 L580.31,752.93 L580.46,752.56 L580.61,751.84 L580.77,750.79 L580.93,749.48 L581.09,747.93 L581.26,746.18 L581.43,744.30 L581.59,742.30 L581.76,740.24 L581.91,738.16 L582.06,736.10 L582.21,734.10 L582.34,732.20 L582.41,731.23 L582.48,730.15 L582.55,728.98 L582.62,727.71 L582.70,726.36 L582.78,724.94 L582.86,723.44 L582.95,721.88 L583.03,720.27 L583.12,718.61 L583.20,716.91 L583.29,715.17 L583.38,713.41 L583.47,711.63 L583.56,709.84 L583.65,708.05 L583.75,706.26 L583.84,704.48 L583.93,702.71 L584.02,700.97 L584.10,699.26 L584.19,697.59 L584.28,695.97 L584.36,694.40 L584.45,692.89 L584.53,691.45 L584.61,690.08 L584.68,688.80 L584.76,687.52 L584.85,686.17 L584.93,684.76 L585.02,683.28 L585.12,681.76 L585.22,680.18 L585.32,678.56 L585.42,676.91 L585.53,675.22 L585.64,673.52 L585.75,671.79 L585.86,670.05 L585.98,668.31 L586.09,666.56 L586.21,664.82 L586.33,663.09 L586.44,661.38 L586.56,659.69 L586.68,658.03 L586.79,656.41 L586.91,654.83 L587.02,653.29 L587.13,651.81 L587.24,650.39 L587.35,649.03 L587.46,647.74 L587.56,646.53 L587.66,645.40 L587.79,643.94 L587.94,642.45 L588.10,640.93 L588.27,639.39 L588.44,637.84 L588.63,636.26 L588.81,634.68 L589.01,633.08 L589.21,631.48 L589.41,629.87 L589.61,628.27 L589.82,626.66 L590.02,625.06 L590.22,623.47 L590.42,621.89 L590.62,620.32 L590.82,618.77 L591.01,617.24 L591.19,615.73 L591.36,614.25 L591.53,612.80 L591.66,611.62 L591.81,610.31 L591.96,608.90 L592.12,607.38 L592.28,605.77 L592.46,604.09 L592.63,602.34 L592.82,600.53 L593.01,598.67 L593.20,596.78 L593.39,594.87 L593.59,592.94 L593.79,591.02 L593.99,589.10 L594.18,587.20 L594.38,585.33 L594.57,583.51 L594.76,581.74 L594.95,580.03 L595.13,578.40 L595.31,576.85 L595.48,575.40 L595.65,574.06 L595.80,572.84 L595.95,571.75 L596.09,570.80 L596.22,570.00 L596.95,566.89 L597.76,565.11 L598.57,564.37 L599.29,563.88 L599.82,564.30 L600.15,564.82 L600.44,565.94 L600.70,567.44 L600.94,569.14 L601.16,570.83 L601.35,572.30 L601.49,573.44 L601.63,574.87 L601.78,576.47 L601.93,578.16 L602.08,579.83 L602.25,581.37 L602.43,582.70 L602.61,583.70 L603.15,585.13 L603.87,586.29 L604.62,587.36 L605.23,588.50 L605.64,589.62 L606.10,590.98 L606.57,592.54 L607.01,594.25 L607.39,596.10 L607.55,597.07 L607.74,598.23 L607.94,599.54 L608.14,600.99 L608.36,602.54 L608.57,604.15 L608.78,605.81 L608.98,607.47 L609.16,609.11 L609.32,610.70 L609.46,612.20 L609.55,613.36 L609.65,614.69 L609.75,616.17 L609.85,617.77 L609.95,619.47 L610.05,621.23 L610.15,623.04 L610.25,624.87 L610.34,626.69 L610.43,628.48 L610.52,630.20 L610.60,631.84 L610.68,633.37 L610.75,634.77 L610.81,636.00 L610.88,637.50 L610.95,639.12 L611.02,640.84 L611.09,642.62 L611.15,644.42 L611.22,646.22 L611.29,647.97 L611.35,649.65 L611.42,651.23 L611.49,652.67 L611.55,653.94 L611.62,655.00 L611.78,656.98 L611.98,659.01 L612.21,660.94 L612.44,662.60 L612.67,663.84 L612.88,664.50 L613.26,664.55 L613.73,663.76 L614.21,662.14 L614.59,659.70 L614.68,658.82 L614.77,657.73 L614.86,656.44 L614.96,655.00 L615.05,653.41 L615.15,651.72 L615.25,649.95 L615.35,648.11 L615.45,646.25 L615.54,644.39 L615.63,642.56 L615.72,640.77 L615.80,639.07 L615.88,637.47 L615.95,636.00 L616.00,634.78 L616.06,633.44 L616.12,632.00 L616.18,630.47 L616.24,628.87 L616.31,627.21 L616.37,625.50 L616.44,623.75 L616.50,621.99 L616.57,620.22 L616.63,618.46 L616.70,616.72 L616.76,615.02 L616.82,613.36 L616.87,611.77 L616.93,610.25 L616.98,608.82 L617.03,607.50 L617.07,606.18 L617.13,604.75 L617.18,603.23 L617.23,601.63 L617.29,599.97 L617.35,598.26 L617.41,596.51 L617.47,594.75 L617.53,592.97 L617.59,591.21 L617.65,589.46 L617.71,587.75 L617.77,586.09 L617.82,584.49 L617.88,582.97 L617.93,581.54 L617.97,580.21 L618.02,579.00 L618.07,577.60 L618.13,576.15 L618.18,574.65 L618.25,573.12 L618.31,571.56 L618.37,569.97 L618.44,568.38 L618.50,566.77 L618.57,565.17 L618.63,563.58 L618.69,562.00 L618.75,560.45 L618.81,558.92 L618.87,557.44 L618.92,556.00 L618.96,554.81 L619.00,553.49 L619.05,552.05 L619.09,550.51 L619.14,548.89 L619.18,547.19 L619.23,545.44 L619.28,543.65 L619.33,541.84 L619.39,540.03 L619.44,538.22 L619.50,536.44 L619.55,534.70 L619.61,533.01 L619.67,531.40 L619.73,529.88 L619.79,528.46 L619.85,527.16 L619.91,526.00 L620.00,524.48 L620.11,522.89 L620.23,521.23 L620.36,519.54 L620.50,517.83 L620.65,516.11 L620.81,514.41 L620.96,512.74 L621.12,511.11 L621.28,509.55 L621.44,508.07 L621.60,506.69 L621.75,505.43 L621.89,504.30 L622.10,502.78 L622.34,501.18 L622.60,499.53 L622.89,497.87 L623.18,496.21 L623.50,494.60 L623.81,493.05 L624.14,491.60 L624.46,490.27 L624.77,489.10 L625.16,487.81 L625.63,486.41 L626.15,484.93 L626.71,483.42 L627.31,481.93 L627.92,480.50 L628.54,479.19 L629.15,478.04 L629.73,477.10 L630.59,476.04 L631.68,474.98 L632.90,473.96 L634.18,473.02 L635.42,472.11 L636.55,471.30 L637.48,470.61 L638.61,469.70 L639.78,468.76 L641.01,467.85 L642.31,466.97 L643.69,466.29 L644.74,466.10 L646.04,465.40 L647.53,464.69 L649.14,464.15 L650.79,463.99 L652.44,463.53 L654.00,463.52 L655.41,462.82 L656.57,463.09 L657.92,463.52 L659.42,463.36 L661.02,463.77 L662.66,464.45 L664.31,464.68 L665.90,464.95 L667.40,465.35 L668.75,465.82 L669.91,465.82 L671.23,465.38 L672.57,465.13 L673.94,465.15 L675.36,464.55 L676.81,463.81 L678.33,463.78 L679.90,462.89 L681.53,462.99 L682.55,463.42 L683.68,463.39 L684.93,463.23 L686.28,463.87 L687.71,463.90 L689.23,464.35 L690.83,464.64 L692.49,464.56 L694.21,464.98 L695.97,465.08 L697.78,465.57 L699.61,465.54 L701.47,465.48 L703.33,465.46 L704.32,465.51 L705.42,464.81 L706.61,464.63 L707.89,464.86 L709.26,464.68 L710.70,464.27 L712.21,464.01 L713.78,463.69 L715.40,463.76 L717.08,463.41 L718.79,462.96 L720.53,462.27 L722.30,462.52 L724.09,461.93 L725.89,461.42 L727.69,461.18 L729.49,461.13 L731.28,460.34 L733.05,460.11 L734.80,459.94 L736.52,460.07 L738.19,459.70 L739.82,459.61 L741.40,459.06 L742.92,458.86 L744.36,458.65 L745.74,458.46 L747.03,458.33 L748.30,458.43 L749.64,458.42 L751.02,457.86 L752.46,457.94 L753.93,457.57 L755.45,457.46 L757.01,457.53 L758.59,457.51 L760.20,457.39 L761.84,457.67 L763.50,456.90 L765.17,457.22 L766.85,457.46 L768.54,457.17 L770.23,456.95 L771.92,456.72 L773.61,456.69 L775.29,457.09 L776.95,456.99 L778.60,456.75 L780.22,456.89 L781.82,456.86 L783.39,456.74 L784.92,456.29 L786.41,456.31 L787.87,456.55 L789.27,456.14 L790.63,456.41 L791.88,456.14 L793.23,455.97 L794.67,456.02 L796.19,455.67 L797.79,455.82 L799.45,455.81 L801.18,455.41 L802.95,455.47 L804.77,455.49 L806.62,455.94 L808.50,455.64 L810.40,455.32 L812.32,455.87 L814.23,455.17 L816.15,455.33 L818.05,455.47 L819.94,455.37 L821.80,455.10 L823.63,455.35 L825.41,455.06 L827.15,455.22 L828.83,454.99 L830.44,455.38 L831.98,455.14 L833.44,454.57 L834.82,454.59 L836.09,455.34 L837.27,454.69 L838.33,454.53 L839.27,454.75 L840.09,454.98 L842.90,455.64 L844.81,455.88 L846.05,456.68 L846.85,457.47 L847.43,458.21 L848.02,458.81 L848.83,459.48 L850.17,459.09 L851.76,458.71 L853.45,458.10 L855.09,457.98 L856.51,457.80 L857.57,457.36 L858.48,458.38 L859.27,459.94 L859.96,461.69 L860.58,463.17 L861.17,463.75 L861.84,463.48 L862.55,462.19 L863.48,460.77 L864.86,460.06 L865.79,460.06 L867.04,459.98 L868.51,459.58 L870.15,459.97 L871.86,460.35 L873.57,460.19 L875.21,460.47 L876.69,460.84 L877.93,460.11 L879.25,460.34 L880.70,459.47 L882.24,459.05 L883.82,458.66 L885.39,457.72 L886.90,457.31 L888.31,456.81 L889.55,456.89 L890.78,456.97 L892.13,456.42 L893.58,456.74 L895.08,457.24 L896.60,457.19 L898.10,457.13 L899.55,457.69 L900.90,457.36 L902.05,457.43 L903.40,456.94 L904.90,457.56 L906.49,457.11 L908.14,457.11 L909.79,456.93 L911.39,456.19 L912.89,456.18 L914.25,455.92 L915.41,455.99 L916.81,455.85 L918.38,455.16 L920.02,454.94 L921.68,454.98 L923.29,454.50 L924.76,454.05 L926.03,453.87 L927.03,453.94 L928.61,453.48 L929.99,453.10 L931.18,452.52 L932.16,452.64 L932.92,453.34 L933.75,454.63 L934.56,456.11 L935.28,457.45 L935.86,458.30 L937.05,459.30 L938.02,458.70 L938.18,457.78 L938.34,456.35 L938.50,454.55 L938.66,452.53 L938.82,450.46 L938.98,448.47 L939.14,446.71 L939.30,445.34 L939.46,444.50 L940.08,444.33 L940.87,445.76 L941.62,447.00 L942.39,447.67 L943.35,448.21 L944.50,448.59 L945.52,448.34 L946.91,447.86 L948.45,447.43 L949.92,447.17 L951.08,447.15 L952.08,447.93 L953.14,448.84 L954.23,449.94 L955.27,450.99 L956.22,451.80 L957.21,452.50 L958.37,453.37 L959.62,454.27 L960.85,454.73 L961.98,454.58 L963.22,454.45 L964.74,453.79 L966.37,452.91 L967.94,451.89 L969.28,451.56 L970.37,452.19 L971.65,452.93 L973.00,453.74 L974.34,454.71 L975.57,455.44 L976.58,455.39 L977.99,455.45 L979.53,454.62 L981.03,453.76 L982.34,453.60 L983.77,453.62 L985.49,453.56 L987.09,454.19 L988.20,455.00 L988.75,456.12 L989.07,457.73 L989.31,459.21 L989.64,459.64 L990.17,459.46 L990.86,458.30 L991.66,456.91 L992.52,455.80 L993.45,455.03 L994.70,454.08 L996.07,453.20 L997.36,452.31 L998.38,451.81 L999.72,451.24 L1001.11,451.50 L1002.70,450.89 L1003.83,451.07 L1005.35,450.73 L1007.07,450.66 L1008.78,450.30 L1010.31,450.46 L1011.44,450.14 L1012.71,450.80 L1013.87,451.72 L1014.92,452.72 L1015.86,453.43 L1017.28,453.75 L1018.89,453.79 L1020.18,454.26 L1021.20,455.39 L1022.22,456.96 L1023.06,457.17 L1023.49,456.76 L1023.93,455.34 L1024.38,453.63 L1024.85,452.05 L1025.32,451.00 L1026.34,450.12 L1027.65,449.64 L1028.92,449.42 L1029.98,448.93 L1031.29,448.31 L1032.68,447.64 L1033.96,447.70 L1035.03,448.22 L1036.30,448.85 L1037.71,449.67 L1039.15,450.57 L1040.54,451.12 L1041.56,451.38 L1042.72,451.21 L1044.02,451.63 L1045.46,452.13 L1047.06,451.95 L1048.81,452.73 L1050.72,452.32 L1051.70,452.99 L1052.86,452.55 L1054.19,453.16 L1055.66,453.27 L1057.24,452.96 L1058.92,453.53 L1060.67,453.04 L1062.45,453.73 L1064.27,453.46 L1066.07,453.62 L1067.85,453.45 L1069.58,453.96 L1071.23,453.78 L1072.78,454.20 L1074.21,454.39 L1075.50,454.29 L1076.85,453.84 L1078.32,454.70 L1079.91,454.73 L1081.57,454.53 L1083.29,454.35 L1085.05,454.55 L1086.82,454.87 L1088.58,454.54 L1090.31,454.86 L1091.98,454.75 L1093.58,454.65 L1095.08,455.15 L1096.45,454.77 L1097.68,455.00 L1098.74,454.65 L1100.37,455.16 L1102.00,455.08 L1103.63,455.84 L1105.22,455.67 L1106.75,456.03 L1108.20,456.41 L1109.54,456.74 L1110.75,457.26 L1111.80,457.41 L1113.32,457.71 L1114.93,458.54 L1116.53,458.91 L1118.06,459.18 L1119.42,459.67 L1120.54,460.06 L1121.77,460.22 L1123.05,460.96 L1124.31,461.33 L1125.45,462.14 L1126.40,463.10 L1126.93,463.97 L1127.49,465.13 L1128.08,466.51 L1128.67,468.03 L1129.24,469.58 L1129.78,471.08 L1130.28,472.45 L1130.72,473.60 L1131.21,474.96 L1131.75,476.63 L1132.32,478.41 L1132.89,480.15 L1133.44,481.66 L1133.96,482.77 L1134.41,483.26 L1135.06,482.96 L1135.80,481.72 L1136.57,480.00 L1137.33,478.22 L1138.02,476.80 L1138.62,475.73 L1139.35,474.43 L1140.14,473.04 L1140.94,471.68 L1141.69,470.49 L1142.34,469.60 L1143.15,468.53 L1144.00,467.53 L1145.12,466.90 L1146.76,466.22 L1147.74,466.55 L1149.04,465.99 L1150.60,466.52 L1152.33,466.12 L1154.16,466.47 L1156.02,467.14 L1157.82,467.08 L1159.49,467.37 L1160.97,467.30 L1162.16,467.48 L1163.66,467.77 L1165.18,468.29 L1166.72,468.66 L1168.25,468.78 L1169.74,469.37 L1171.17,469.85 L1172.52,470.24 L1173.66,470.76 L1175.01,471.04 L1176.51,470.97 L1178.09,471.50 L1179.69,471.74 L1181.24,472.11 L1182.70,472.56 L1183.99,473.04 L1185.05,473.71 L1186.26,474.22 L1187.52,474.93 L1188.78,475.60 L1190.02,476.42 L1191.21,477.35 L1192.32,478.12 L1193.33,478.82 L1194.36,479.63 L1195.51,480.69 L1196.74,481.87 L1198.01,483.04 L1199.27,484.10 L1200.49,484.84 L1201.62,485.12 L1202.69,484.80 L1203.96,485.01 L1205.37,484.54 L1206.85,483.82 L1208.33,483.01 L1209.74,482.19 L1211.01,481.51 L1212.07,481.20 L1213.40,480.65 L1214.84,479.94 L1216.32,478.93 L1217.78,478.34 L1219.15,477.65 L1220.36,477.07 L1221.57,476.71 L1222.94,476.20 L1224.40,475.53 L1225.88,474.99 L1227.32,474.58 L1228.65,474.31 L1229.89,474.14 L1231.40,473.88 L1233.07,474.40 L1234.78,473.96 L1236.43,474.54 L1237.91,474.52 L1239.10,474.84 L1240.57,475.22 L1242.10,475.59 L1243.61,476.38 L1245.04,476.81 L1246.31,477.66 L1247.23,478.48 L1248.31,479.52 L1249.46,480.73 L1250.64,482.04 L1251.77,483.38 L1252.78,484.66 L1253.60,485.80 L1254.27,486.83 L1254.98,488.03 L1255.72,489.37 L1256.45,490.77 L1257.16,492.20 L1257.81,493.60 L1258.38,494.92 L1258.83,496.10 L1259.21,497.25 L1259.58,498.50 L1259.94,499.84 L1260.27,501.26 L1260.58,502.77 L1260.87,504.35 L1261.13,506.00 L1261.35,507.70 L1261.46,508.70 L1261.58,509.85 L1261.69,511.13 L1261.81,512.52 L1261.92,514.01 L1262.04,515.58 L1262.15,517.21 L1262.27,518.90 L1262.38,520.61 L1262.49,522.35 L1262.59,524.08 L1262.70,525.80 L1262.79,527.49 L1262.89,529.13 L1262.97,530.70 L1263.03,531.81 L1263.09,533.05 L1263.16,534.39 L1263.23,535.83 L1263.30,537.36 L1263.37,538.97 L1263.44,540.63 L1263.52,542.35 L1263.59,544.11 L1263.67,545.90 L1263.74,547.71 L1263.82,549.51 L1263.89,551.32 L1263.97,553.10 L1264.04,554.85 L1264.12,556.57 L1264.19,558.22 L1264.26,559.82 L1264.32,561.33 L1264.39,562.76 L1264.45,564.09 L1264.50,565.30 L1264.57,566.69 L1264.64,568.16 L1264.72,569.72 L1264.80,571.34 L1264.88,573.01 L1264.96,574.72 L1265.05,576.45 L1265.13,578.19 L1265.22,579.93 L1265.31,581.65 L1265.40,583.34 L1265.49,584.99 L1265.57,586.58 L1265.66,588.10 L1265.74,589.54 L1265.82,590.89 L1265.89,592.12 L1265.97,593.23 L1266.04,594.20 L1266.18,596.10 L1266.35,597.99 L1266.52,599.83 L1266.70,601.59 L1266.89,603.24 L1267.08,604.73 L1267.27,606.05 L1267.47,607.15 L1267.66,608.00 L1268.43,609.65 L1269.41,610.49 L1270.27,610.43 L1270.86,609.74 L1271.53,608.66 L1272.21,606.98 L1272.79,604.60 L1272.94,603.68 L1273.11,602.53 L1273.28,601.19 L1273.45,599.67 L1273.64,598.03 L1273.82,596.28 L1274.02,594.47 L1274.21,592.61 L1274.41,590.76 L1274.61,588.94 L1274.81,587.18 L1275.01,585.51 L1275.21,583.98 L1275.41,582.60 L1275.60,581.35 L1275.83,580.00 L1276.09,578.57 L1276.37,577.07 L1276.66,575.51 L1276.97,573.90 L1277.29,572.27 L1277.61,570.62 L1277.93,568.96 L1278.24,567.31 L1278.54,565.67 L1278.83,564.07 L1279.10,562.52 L1279.34,561.02 L1279.55,559.60 L1279.71,558.44 L1279.87,557.15 L1280.03,555.75 L1280.20,554.25 L1280.38,552.67 L1280.55,551.03 L1280.73,549.33 L1280.91,547.61 L1281.09,545.86 L1281.26,544.10 L1281.44,542.36 L1281.61,540.65 L1281.78,538.98 L1281.95,537.36 L1282.11,535.82 L1282.27,534.37 L1282.42,533.02 L1282.57,531.79 L1282.70,530.70 L1282.90,529.16 L1283.12,527.54 L1283.34,525.85 L1283.57,524.14 L1283.81,522.41 L1284.06,520.70 L1284.31,519.02 L1284.56,517.41 L1284.82,515.88 L1285.08,514.46 L1285.34,513.18 L1285.60,512.05 L1285.86,511.10 L1286.51,509.34 L1287.34,507.75 L1288.27,506.32 L1289.23,505.07 L1290.16,504.00 L1290.99,503.10 L1292.10,502.07 L1293.47,501.00 L1294.91,500.07 L1296.25,499.26 L1297.30,498.73 L1298.41,499.15 L1299.56,499.67 L1300.61,500.55 L1301.44,501.90 L1301.74,502.71 L1302.05,503.72 L1302.35,504.92 L1302.66,506.28 L1302.95,507.77 L1303.24,509.38 L1303.50,511.06 L1303.75,512.81 L1303.96,514.60 L1304.07,515.60 L1304.18,516.78 L1304.30,518.13 L1304.42,519.61 L1304.54,521.21 L1304.66,522.91 L1304.79,524.68 L1304.92,526.49 L1305.05,528.34 L1305.17,530.18 L1305.29,532.00 L1305.42,533.79 L1305.53,535.50 L1305.65,537.13 L1305.75,538.65 L1305.86,540.03 L1305.95,541.25 L1306.04,542.30 L1306.19,544.06 L1306.34,545.88 L1306.50,547.73 L1306.66,549.55 L1306.82,551.30 L1306.98,552.93 L1307.15,554.39 L1307.32,555.64 L1307.49,556.62 L1307.66,557.30 L1308.46,558.29 L1309.47,557.13 L1310.27,555.00 L1310.42,554.09 L1310.57,552.85 L1310.71,551.34 L1310.85,549.62 L1310.99,547.77 L1311.13,545.85 L1311.27,543.94 L1311.40,542.10 L1311.54,540.40 L1311.67,538.91 L1311.80,537.70 L1312.00,536.23 L1312.24,534.74 L1312.50,533.23 L1312.78,531.73 L1313.07,530.24 L1313.35,528.80 L1313.63,527.41 L1313.87,526.10 L1314.09,524.81 L1314.33,523.24 L1314.58,521.49 L1314.86,519.66 L1315.15,517.82 L1315.46,516.08 L1315.78,514.52 L1316.13,513.23 L1316.49,512.30 L1317.58,511.13 L1319.04,510.85 L1320.64,510.70 L1322.16,509.80 L1323.28,509.37 L1324.66,508.48 L1326.20,507.52 L1327.78,506.47 L1329.26,505.98 L1330.54,505.16 L1331.85,505.25 L1333.42,505.78 L1335.09,506.66 L1336.71,507.16 L1338.13,507.78 L1339.19,507.97 L1340.59,507.89 L1341.74,508.03 L1343.06,507.07 L1343.87,506.56 L1344.92,505.71 L1346.11,504.72 L1347.38,503.68 L1348.64,502.65 L1349.81,501.88 L1350.81,501.06 L1351.92,500.58 L1353.16,500.26 L1354.49,499.54 L1355.86,499.68 L1357.23,498.95 L1358.56,499.36 L1359.68,498.66 L1361.05,499.14 L1362.59,498.99 L1364.23,499.18 L1365.88,499.48 L1367.48,499.48 L1368.93,499.54 L1370.18,499.72 L1371.52,499.20 L1372.97,498.86 L1374.51,498.72 L1376.09,498.04 L1377.69,498.05 L1379.28,497.43 L1380.81,497.38 L1382.02,497.08 L1383.49,497.25 L1385.16,497.54 L1386.95,498.20 L1388.80,498.54 L1390.63,499.07 L1392.38,499.07 L1393.97,499.60 L1395.33,499.70 L1396.40,499.88 L1397.81,500.63 L1399.07,501.41 L1400.22,502.19 L1401.26,502.99 L1402.23,503.76 L1403.15,504.41 L1404.16,505.12 L1405.33,506.02 L1406.58,506.98 L1407.81,507.88 L1408.95,508.53 L1409.91,509.09 L1410.98,508.64 L1412.14,508.15 L1413.35,507.43 L1414.57,506.47 L1415.77,505.50 L1416.60,504.73 L1417.62,503.68 L1418.77,502.44 L1419.99,501.12 L1421.23,499.80 L1422.43,498.59 L1423.54,497.59 L1424.50,496.89 L1425.81,496.50 L1427.32,495.71 L1428.92,495.55 L1430.52,495.57 L1431.99,495.69 L1433.24,495.46 L1434.66,495.58 L1436.21,495.88 L1437.84,496.43 L1439.46,496.95 L1440.99,496.78 L1442.06,496.82 L1443.38,495.97 L1444.85,495.72 L1446.40,495.05 L1447.94,494.21 L1449.38,493.48 L1450.63,493.20 L1451.62,493.18 L1452.93,493.48 L1454.19,494.08 L1455.38,494.79 L1456.48,495.37 L1457.48,495.47 L1458.56,495.65 L1459.84,494.73 L1461.16,493.75 L1462.34,493.06 L1463.24,492.93 L1464.33,492.75 L1465.30,493.29 L1466.22,494.20 L1466.86,495.15 L1467.64,496.56 L1468.49,498.09 L1469.33,499.39 L1470.09,500.13 L1471.12,500.01 L1472.38,499.47 L1473.70,498.71 L1474.95,498.01 L1476.03,497.40 L1477.34,496.74 L1478.78,495.70 L1480.27,494.87 L1481.71,494.34 L1482.75,493.73 L1484.08,493.09 L1485.58,492.38 L1487.17,491.49 L1488.74,490.83 L1490.19,490.11 L1491.43,489.56 L1492.34,489.71 L1493.93,489.33 L1495.09,489.52 L1496.22,489.82 L1497.13,490.68 L1498.28,491.91 L1499.51,493.25 L1500.68,494.34 L1501.62,494.38 L1502.62,494.30 L1503.68,493.06 L1504.78,491.61 L1505.95,490.50 L1506.91,489.89 L1508.14,489.35 L1509.52,488.70 L1510.95,487.97 L1512.32,487.58 L1513.51,487.06 L1514.75,486.61 L1516.23,486.63 L1517.82,486.30 L1519.40,486.54 L1520.83,486.51 L1521.98,486.83 L1523.55,486.75 L1525.21,486.86 L1526.79,487.24 L1528.11,487.31 L1529.09,488.02 L1530.17,488.94 L1531.28,490.01 L1532.35,491.17 L1533.33,492.30 L1534.07,493.23 L1534.94,494.41 L1535.90,495.75 L1536.89,497.17 L1537.85,498.58 L1538.72,499.88 L1539.46,501.00 L1540.15,502.11 L1540.89,503.41 L1541.68,504.81 L1542.47,506.22 L1543.26,507.56 L1544.00,508.75 L1544.68,509.70 L1545.53,510.74 L1546.53,511.89 L1547.61,513.02 L1548.72,514.01 L1549.77,514.63 L1550.72,514.76 L1551.74,514.62 L1552.98,514.07 L1554.32,513.01 L1555.64,511.92 L1556.82,510.92 L1557.75,510.19 L1558.91,509.30 L1560.09,508.32 L1561.17,507.48 L1562.07,507.42 L1562.88,507.62 L1563.74,508.17 L1564.64,509.22 L1565.59,510.70 L1566.03,511.57 L1566.59,512.75 L1567.22,514.17 L1567.91,515.76 L1568.63,517.43 L1569.34,519.11 L1570.04,520.71 L1570.68,522.16 L1571.25,523.38 L1571.71,524.30 L1572.77,526.08 L1573.85,527.62 L1574.86,528.69 L1575.68,528.78 L1576.39,528.61 L1577.14,527.38 L1577.90,525.82 L1578.65,524.30 L1579.15,523.32 L1579.77,522.04 L1580.47,520.57 L1581.19,519.05 L1581.90,517.61 L1582.54,516.38 L1583.06,515.50 L1584.18,514.08 L1585.38,513.00 L1586.58,512.50 L1587.69,512.61 L1589.10,513.16 L1590.56,513.65 L1591.80,514.60 L1592.44,515.51 L1593.14,516.80 L1593.89,518.34 L1594.68,520.00 L1595.47,521.64 L1596.26,523.11 L1597.03,524.30 L1597.92,525.44 L1599.04,526.77 L1600.29,528.18 L1601.60,529.54 L1602.85,530.71 L1603.97,531.58 L1604.86,532.37 L1605.98,531.68 L1607.16,530.40 L1608.30,528.89 L1609.31,527.64 L1610.09,527.08 L1610.68,527.77 L1611.23,529.00 L1611.73,530.61 L1612.22,532.34 L1612.70,533.90 L1613.05,534.99 L1613.48,536.44 L1613.96,538.10 L1614.46,539.83 L1614.96,541.48 L1615.44,542.92 L1615.86,544.01 L1616.22,544.55 L1616.89,544.77 L1617.61,543.95 L1618.29,542.30 L1618.83,539.80 L1618.94,538.94 L1619.06,537.84 L1619.17,536.53 L1619.29,535.04 L1619.41,533.41 L1619.53,531.67 L1619.65,529.85 L1619.77,527.99 L1619.89,526.12 L1620.01,524.27 L1620.12,522.48 L1620.23,520.77 L1620.34,519.19 L1620.44,517.76 L1620.54,516.52 L1620.63,515.50 L1620.81,513.72 L1620.98,511.98 L1621.17,510.30 L1621.36,508.72 L1621.57,507.27 L1621.80,505.96 L1622.06,504.83 L1622.34,503.90 L1623.00,502.66 L1623.91,501.56 L1624.92,500.60 L1625.89,499.78 L1626.67,499.10 L1627.78,498.16 L1628.98,497.27 L1630.18,496.20 L1630.88,495.35 L1631.77,494.17 L1632.75,492.83 L1633.74,491.55 L1634.65,490.51 L1635.41,490.01 L1636.91,489.43 L1638.54,490.29 L1639.82,491.30 L1640.51,492.27 L1641.18,493.67 L1641.82,495.11 L1642.43,496.20 L1643.50,497.09 L1644.78,497.95 L1645.86,499.10 L1646.31,500.03 L1646.81,501.29 L1647.33,502.76 L1647.82,504.26 L1648.24,505.66 L1648.56,506.80 L1648.84,508.16 L1649.08,509.77 L1649.29,511.37 L1649.44,512.73 L1649.55,513.60"/>
<path stroke="#0000ff" d="M71.17,898.00 L71.84,897.67 L72.56,898.29 L73.34,898.21 L74.16,897.75 L75.04,897.95 L75.97,897.89 L76.95,898.06 L77.97,898.17 L79.05,897.54 L80.17,897.47 L81.33,898.17 L82.54,897.79 L83.79,898.07 L85.08,897.38 L86.41,897.75 L87.78,897.98 L89.18,897.52 L90.63,898.14 L92.11,898.08 L93.62,897.29 L95.17,897.26 L96.75,897.70 L98.37,898.03 L100.01,897.51 L101.68,897.34 L103.38,897.50 L105.11,897.13 L106.86,897.28 L108.64,897.45 L110.44,897.47 L112.27,897.22 L114.11,897.19 L115.98,897.15 L117.86,897.34 L119.76,897.16 L121.68,896.90 L123.62,897.60 L125.57,897.32 L127.53,897.37 L129.51,896.94 L131.50,897.63 L133.50,897.49 L135.51,896.80 L137.52,896.97 L139.54,897.28 L141.57,897.25 L143.61,897.42 L145.64,896.94 L147.68,897.27 L149.73,897.10 L151.77,896.75 L153.81,896.98 L155.85,897.21 L157.89,897.15 L159.92,896.83 L161.95,896.87 L163.97,896.36 L165.98,896.52 L167.99,896.98 L169.98,896.62 L171.97,896.38 L173.94,896.69 L175.90,896.80 L177.85,896.75 L179.78,896.46 L181.70,896.50 L183.60,896.54 L185.48,896.75 L187.34,896.50 L189.18,896.37 L190.99,896.43 L192.79,896.00 L194.56,895.99 L196.31,896.56 L198.03,896.79 L199.72,896.42 L201.38,896.23 L203.02,896.01 L204.62,896.29 L206.20,896.70 L207.74,896.50 L209.24,896.28 L210.72,896.55 L212.15,895.97 L213.55,896.21 L214.91,896.59 L216.23,896.24 L217.51,896.13 L218.75,895.95 L219.94,896.19 L221.09,896.54 L222.20,895.69 L223.26,896.37 L224.28,896.40 L225.24,896.46 L226.16,896.32 L227.02,896.38 L227.84,896.12 L231.05,896.15 L233.98,896.04 L236.65,895.72 L239.07,896.47 L241.28,896.23 L243.27,895.95 L245.09,896.26 L246.73,896.29 L248.23,896.24 L249.60,896.30 L250.85,896.53 L252.02,896.67 L253.11,896.73 L254.15,896.69 L255.16,896.42 L256.15,896.67 L257.14,896.72 L258.16,897.13 L259.22,897.44 L260.33,897.48 L261.53,897.57 L262.82,897.68 L264.23,897.30 L265.37,897.85 L266.58,897.79 L267.86,897.38 L269.21,897.42 L270.62,897.52 L272.08,898.23 L273.60,897.92 L275.16,897.92 L276.76,898.46 L278.40,898.35 L280.08,898.26 L281.77,898.46 L283.50,898.89 L285.24,898.73 L286.99,898.95 L288.74,899.44 L290.51,899.37 L292.26,899.39 L294.02,899.65 L295.76,899.41 L297.48,899.84 L299.18,899.99 L300.85,899.93 L302.50,899.98 L304.10,900.75 L305.67,900.54 L307.19,900.40 L308.65,900.83 L310.07,901.09 L311.42,900.52 L312.70,900.60 L313.98,900.78 L315.32,901.34 L316.71,900.96 L318.15,901.50 L319.63,901.57 L321.16,901.55 L322.72,901.37 L324.31,902.09 L325.94,902.04 L327.59,901.90 L329.26,901.75 L330.95,902.20 L332.65,902.08 L334.36,902.33 L336.08,902.20 L337.80,902.56 L339.51,902.16 L341.23,902.45 L342.93,903.10 L344.62,903.11 L346.29,902.70 L347.94,903.25 L349.56,902.85 L351.16,903.45 L352.72,903.35 L354.24,903.13 L355.73,903.04 L357.16,902.87 L358.55,903.67 L359.89,902.97 L361.17,903.68 L362.44,903.83 L363.75,903.50 L365.10,903.16 L366.48,903.80 L367.89,903.90 L369.33,903.66 L370.80,903.49 L372.30,903.37 L373.82,903.34 L375.37,903.20 L376.94,903.61 L378.52,903.38 L380.12,903.16 L381.74,903.06 L383.37,903.54 L385.01,903.19 L386.66,903.35 L388.32,903.17 L389.98,903.62 L391.65,903.62 L393.32,902.81 L394.98,902.94 L396.65,903.02 L398.31,903.57 L399.96,903.36 L401.61,902.93 L403.24,902.79 L404.86,903.16 L406.47,903.27 L408.07,903.31 L409.64,902.76 L410.73,903.21 L411.90,903.01 L413.15,902.80 L414.46,903.20 L415.83,902.51 L417.27,902.89 L418.77,902.29 L420.31,902.32 L421.91,902.91 L423.56,902.25 L425.25,902.67 L426.97,902.47 L428.74,902.62 L430.53,902.16 L432.35,902.07 L434.20,901.97 L436.07,902.40 L437.95,902.11 L439.85,902.35 L441.75,902.22 L443.67,901.51 L445.58,901.80 L447.49,901.35 L449.40,901.23 L451.29,901.20 L453.18,901.82 L455.05,901.69 L456.89,901.66 L458.72,901.18 L460.51,901.36 L462.28,901.45 L464.00,901.05 L465.69,901.16 L467.34,900.81 L468.94,900.64 L470.49,900.76 L471.99,901.26 L473.43,900.93 L474.81,901.21 L476.12,900.77 L477.37,900.59 L478.54,901.01 L479.64,901.02 L480.65,900.29 L481.59,900.86 L482.43,900.33 L485.10,900.35 L487.44,901.06 L489.50,900.37 L491.30,900.62 L492.89,901.34 L494.29,900.99 L495.55,900.89 L496.68,901.09 L497.74,901.32 L498.74,901.85 L499.73,901.61 L500.74,902.36 L501.80,902.22 L503.18,902.91 L504.69,903.28 L506.29,903.47 L507.95,904.04 L509.64,904.77 L511.31,905.22 L512.93,906.09 L514.47,906.37 L515.88,906.84 L517.14,907.78 L518.20,907.66 L519.67,908.12 L521.08,908.07 L522.46,907.93 L523.83,907.66 L525.20,908.40 L526.59,908.52 L528.02,908.78 L529.08,908.66 L530.39,909.21 L531.89,909.99 L533.51,910.82 L535.20,911.37 L536.91,912.19 L538.57,912.96 L540.13,913.58 L541.52,914.39 L542.70,914.99 L543.60,915.58 L544.83,916.59 L545.82,917.66 L546.62,918.81 L547.29,920.02 L547.89,921.29 L548.47,922.60 L548.88,923.61 L549.33,924.82 L549.80,926.19 L550.29,927.69 L550.77,929.27 L551.23,930.90 L551.68,932.52 L552.08,934.10 L552.43,935.60 L552.67,936.68 L552.92,937.89 L553.19,939.23 L553.46,940.67 L553.74,942.19 L554.03,943.77 L554.31,945.41 L554.59,947.06 L554.86,948.73 L555.11,950.39 L555.35,952.01 L555.57,953.59 L555.77,955.10 L555.90,956.24 L556.04,957.52 L556.18,958.93 L556.33,960.44 L556.48,962.05 L556.63,963.73 L556.79,965.46 L556.94,967.24 L557.09,969.03 L557.25,970.84 L557.40,972.63 L557.54,974.39 L557.68,976.11 L557.82,977.76 L557.95,979.33 L558.07,980.81 L558.18,982.17 L558.29,983.40 L558.41,984.84 L558.54,986.36 L558.68,987.96 L558.81,989.61 L558.95,991.31 L559.10,993.03 L559.24,994.76 L559.38,996.49 L559.52,998.20 L559.66,999.87 L559.79,1001.50 L559.92,1003.06 L560.05,1004.54 L560.16,1005.92 L560.27,1007.20 L560.38,1008.58 L560.50,1010.08 L560.63,1011.68 L560.76,1013.37 L560.89,1015.11 L561.03,1016.87 L561.17,1018.64 L561.31,1020.39 L561.45,1022.09 L561.59,1023.71 L561.74,1025.24 L561.88,1026.65 L562.02,1027.91 L562.16,1029.00 L562.41,1030.60 L562.70,1032.26 L563.03,1033.95 L563.38,1035.62 L563.75,1037.22 L564.12,1038.70 L564.49,1040.02 L564.83,1041.14 L565.14,1042.00 L566.26,1043.26 L567.58,1043.83 L568.65,1045.20 L568.92,1046.10 L569.19,1047.23 L569.47,1048.56 L569.76,1050.08 L570.03,1051.74 L570.30,1053.52 L570.55,1055.39 L570.78,1057.33 L570.99,1059.30 L571.08,1060.26 L571.17,1061.34 L571.27,1062.54 L571.36,1063.85 L571.46,1065.25 L571.56,1066.73 L571.67,1068.28 L571.77,1069.90 L571.88,1071.55 L571.98,1073.25 L572.09,1074.97 L572.19,1076.70 L572.30,1078.44 L572.40,1080.17 L572.50,1081.88 L572.60,1083.55 L572.70,1085.18 L572.79,1086.76 L572.88,1088.27 L572.97,1089.70 L573.05,1090.86 L573.12,1092.12 L573.20,1093.46 L573.29,1094.89 L573.38,1096.38 L573.48,1097.94 L573.57,1099.55 L573.67,1101.20 L573.78,1102.90 L573.88,1104.63 L573.99,1106.38 L574.09,1108.14 L574.20,1109.92 L574.30,1111.69 L574.41,1113.45 L574.51,1115.19 L574.61,1116.91 L574.71,1118.60 L574.81,1120.24 L574.91,1121.84 L575.00,1123.38 L575.08,1124.85 L575.17,1126.25 L575.24,1127.57 L575.32,1128.80 L575.40,1130.18 L575.48,1131.65 L575.57,1133.17 L575.65,1134.76 L575.74,1136.40 L575.84,1138.08 L575.93,1139.79 L576.03,1141.53 L576.12,1143.28 L576.22,1145.04 L576.32,1146.80 L576.41,1148.55 L576.51,1150.28 L576.60,1151.98 L576.70,1153.65 L576.79,1155.27 L576.88,1156.84 L576.97,1158.35 L577.06,1159.79 L577.14,1161.15 L577.22,1162.42 L577.30,1163.60 L577.40,1165.15 L577.51,1166.86 L577.63,1168.71 L577.75,1170.66 L577.88,1172.67 L578.01,1174.73 L578.15,1176.79 L578.29,1178.82 L578.43,1180.79 L578.57,1182.68 L578.71,1184.44 L578.85,1186.05 L578.98,1187.48 L579.11,1188.69 L579.23,1189.65 L579.35,1190.33 L579.46,1190.70 L579.62,1190.73 L579.79,1190.30 L579.98,1189.45 L580.18,1188.25 L580.38,1186.74 L580.59,1184.98 L580.81,1183.02 L581.02,1180.92 L581.23,1178.73 L581.43,1176.52 L581.62,1174.32 L581.80,1172.20 L581.88,1171.26 L581.96,1170.21 L582.05,1169.05 L582.14,1167.80 L582.24,1166.47 L582.33,1165.05 L582.44,1163.56 L582.54,1162.01 L582.65,1160.40 L582.76,1158.74 L582.87,1157.04 L582.98,1155.30 L583.10,1153.53 L583.21,1151.74 L583.33,1149.95 L583.44,1148.14 L583.56,1146.34 L583.67,1144.55 L583.78,1142.77 L583.89,1141.02 L584.00,1139.30 L584.11,1137.62 L584.21,1135.99 L584.32,1134.42 L584.41,1132.90 L584.51,1131.45 L584.60,1130.08 L584.68,1128.80 L584.77,1127.52 L584.86,1126.17 L584.95,1124.75 L585.05,1123.27 L585.15,1121.73 L585.25,1120.15 L585.35,1118.52 L585.46,1116.86 L585.56,1115.16 L585.67,1113.44 L585.78,1111.71 L585.90,1109.96 L586.01,1108.20 L586.12,1106.45 L586.24,1104.70 L586.35,1102.97 L586.46,1101.25 L586.58,1099.56 L586.69,1097.90 L586.81,1096.28 L586.92,1094.70 L587.03,1093.18 L587.14,1091.70 L587.25,1090.30 L587.35,1088.95 L587.46,1087.69 L587.56,1086.50 L587.66,1085.40 L587.80,1083.91 L587.96,1082.41 L588.12,1080.90 L588.30,1079.37 L588.49,1077.83 L588.68,1076.28 L588.88,1074.73 L589.09,1073.17 L589.30,1071.61 L589.51,1070.06 L589.72,1068.50 L589.94,1066.95 L590.15,1065.41 L590.36,1063.88 L590.57,1062.35 L590.78,1060.85 L590.98,1059.36 L591.17,1057.88 L591.36,1056.43 L591.53,1055.00 L591.67,1053.84 L591.82,1052.56 L591.97,1051.17 L592.14,1049.67 L592.32,1048.09 L592.50,1046.42 L592.68,1044.69 L592.88,1042.91 L593.07,1041.08 L593.27,1039.22 L593.48,1037.33 L593.68,1035.44 L593.89,1033.55 L594.09,1031.68 L594.30,1029.83 L594.50,1028.02 L594.70,1026.26 L594.89,1024.56 L595.09,1022.93 L595.27,1021.38 L595.45,1019.93 L595.62,1018.58 L595.78,1017.36 L595.94,1016.26 L596.08,1015.30 L596.22,1014.50 L596.95,1011.38 L597.76,1009.40 L598.57,1008.33 L599.29,1008.22 L599.82,1008.00 L600.14,1008.61 L600.43,1009.94 L600.69,1011.71 L600.93,1013.66 L601.15,1015.55 L601.35,1017.10 L601.53,1018.38 L601.71,1019.93 L601.90,1021.63 L602.11,1023.35 L602.32,1024.98 L602.55,1026.40 L602.79,1027.50 L603.39,1028.93 L604.20,1030.17 L605.03,1031.41 L605.68,1032.80 L605.97,1033.80 L606.29,1035.04 L606.61,1036.45 L606.93,1037.98 L607.23,1039.57 L607.51,1041.16 L607.75,1042.70 L607.89,1043.75 L608.05,1044.97 L608.21,1046.34 L608.38,1047.83 L608.55,1049.40 L608.72,1051.02 L608.89,1052.67 L609.05,1054.31 L609.20,1055.92 L609.34,1057.46 L609.46,1058.90 L609.55,1060.09 L609.65,1061.45 L609.75,1062.96 L609.86,1064.60 L609.96,1066.32 L610.07,1068.09 L610.18,1069.90 L610.29,1071.69 L610.39,1073.46 L610.49,1075.16 L610.58,1076.76 L610.67,1078.24 L610.74,1079.56 L610.81,1080.70 L610.91,1082.36 L611.00,1084.10 L611.10,1085.87 L611.19,1087.64 L611.28,1089.37 L611.37,1091.01 L611.46,1092.52 L611.54,1093.87 L611.62,1095.00 L611.75,1096.65 L611.90,1098.44 L612.06,1100.20 L612.23,1101.75 L612.42,1102.91 L612.61,1103.50 L613.03,1103.50 L613.59,1102.71 L614.15,1101.15 L614.59,1098.80 L614.69,1097.96 L614.78,1096.91 L614.87,1095.68 L614.97,1094.29 L615.07,1092.78 L615.17,1091.16 L615.27,1089.46 L615.36,1087.71 L615.46,1085.92 L615.55,1084.14 L615.64,1082.37 L615.72,1080.65 L615.80,1078.99 L615.88,1077.44 L615.95,1076.00 L616.00,1074.80 L616.06,1073.47 L616.12,1072.04 L616.18,1070.52 L616.24,1068.92 L616.31,1067.26 L616.37,1065.55 L616.44,1063.80 L616.50,1062.04 L616.57,1060.26 L616.63,1058.49 L616.70,1056.75 L616.76,1055.04 L616.82,1053.37 L616.87,1051.78 L616.93,1050.25 L616.98,1048.82 L617.03,1047.50 L617.07,1046.18 L617.13,1044.75 L617.18,1043.23 L617.23,1041.63 L617.29,1039.97 L617.35,1038.26 L617.41,1036.51 L617.47,1034.75 L617.53,1032.97 L617.59,1031.21 L617.65,1029.46 L617.71,1027.75 L617.77,1026.09 L617.82,1024.49 L617.88,1022.97 L617.93,1021.54 L617.97,1020.21 L618.02,1019.00 L618.07,1017.61 L618.12,1016.19 L618.17,1014.73 L618.22,1013.25 L618.28,1011.75 L618.33,1010.22 L618.39,1008.68 L618.45,1007.12 L618.51,1005.55 L618.57,1003.96 L618.63,1002.37 L618.70,1000.78 L618.77,999.18 L618.84,997.59 L618.92,996.00 L618.97,994.90 L619.03,993.66 L619.10,992.31 L619.17,990.85 L619.24,989.30 L619.32,987.67 L619.40,985.97 L619.49,984.21 L619.58,982.41 L619.67,980.58 L619.76,978.72 L619.86,976.87 L619.96,975.01 L620.05,973.18 L620.15,971.37 L620.25,969.61 L620.35,967.90 L620.44,966.26 L620.54,964.70 L620.63,963.23 L620.73,961.87 L620.81,960.62 L620.90,959.50 L621.03,957.96 L621.16,956.38 L621.31,954.76 L621.46,953.12 L621.62,951.47 L621.79,949.81 L621.96,948.17 L622.14,946.54 L622.33,944.95 L622.53,943.39 L622.72,941.90 L622.93,940.46 L623.14,939.11 L623.35,937.84 L623.56,936.66 L623.78,935.60 L624.15,934.08 L624.58,932.48 L625.08,930.82 L625.63,929.14 L626.21,927.46 L626.82,925.82 L627.43,924.25 L628.05,922.79 L628.64,921.45 L629.21,920.28 L629.73,919.30 L630.57,917.97 L631.53,916.73 L632.59,915.56 L633.73,914.48 L634.94,913.47 L636.19,912.50 L637.48,911.79 L638.43,911.14 L639.60,910.66 L640.94,910.00 L642.41,909.33 L643.97,908.57 L645.56,907.93 L647.14,907.28 L648.66,906.63 L650.08,905.77 L651.35,905.53 L652.43,905.25 L653.85,905.25 L655.42,904.91 L657.05,904.73 L658.70,904.72 L660.29,904.38 L661.75,904.92 L663.03,904.73 L664.05,904.64 L665.57,905.18 L666.84,906.13 L668.18,906.82 L669.91,906.83 L670.88,906.74 L672.13,906.88 L673.58,906.46 L675.18,906.27 L676.87,905.39 L678.58,905.08 L680.25,904.85 L681.82,904.05 L683.23,903.78 L684.41,903.94 L685.82,903.62 L687.36,903.51 L688.99,903.73 L690.64,904.17 L692.23,904.24 L693.72,904.07 L695.04,904.24 L696.13,904.94 L697.57,905.10 L698.92,905.33 L700.27,906.18 L701.71,905.92 L703.33,906.19 L704.29,906.37 L705.41,906.00 L706.67,905.39 L708.05,905.31 L709.54,904.67 L711.11,904.32 L712.76,903.84 L714.45,903.09 L716.18,902.80 L717.93,902.33 L718.93,902.40 L720.07,902.08 L721.34,901.79 L722.73,901.60 L724.22,901.45 L725.80,900.65 L727.44,900.32 L729.14,900.41 L730.87,900.13 L732.63,899.65 L734.40,899.33 L736.17,898.99 L737.91,899.05 L739.61,898.73 L741.26,898.33 L742.84,897.70 L744.34,898.10 L745.74,897.62 L747.03,897.26 L748.31,897.21 L749.69,897.38 L751.15,896.70 L752.70,896.66 L754.30,896.68 L755.95,897.03 L757.64,896.80 L759.35,896.87 L761.08,896.41 L762.80,896.34 L764.51,896.23 L766.19,896.12 L767.83,896.06 L769.42,896.23 L770.94,896.29 L772.39,895.78 L773.74,895.94 L774.99,895.64 L776.13,895.62 L777.62,895.83 L779.17,895.97 L780.76,896.04 L782.40,896.52 L784.06,896.03 L785.73,896.58 L787.39,897.03 L789.04,897.01 L790.67,897.06 L792.25,897.06 L793.78,897.22 L795.25,897.77 L796.63,897.82 L797.93,897.65 L799.23,897.83 L800.65,897.80 L802.16,897.66 L803.74,897.18 L805.38,897.14 L807.06,897.28 L808.76,896.79 L810.46,896.94 L812.14,896.57 L813.80,896.29 L815.40,896.23 L816.94,895.80 L818.38,895.83 L819.73,895.73 L821.02,895.28 L822.48,895.20 L824.08,895.02 L825.78,895.18 L827.56,894.69 L829.39,894.17 L831.23,894.38 L833.06,893.55 L834.84,893.45 L836.56,893.36 L838.17,893.11 L839.64,892.73 L840.96,892.88 L842.08,892.58 L842.97,892.75 L844.89,893.15 L846.15,894.30 L847.04,895.66 L847.85,896.85 L848.83,897.28 L850.04,897.80 L851.61,896.91 L853.35,896.23 L855.05,895.81 L856.52,895.64 L857.57,895.92 L858.26,896.66 L858.83,898.16 L859.30,899.96 L859.70,901.75 L860.07,903.17 L860.45,904.10 L860.92,903.54 L861.36,902.18 L862.09,900.69 L863.42,900.13 L864.30,900.30 L865.49,899.83 L866.93,900.44 L868.53,900.73 L870.24,901.29 L871.99,901.33 L873.70,901.77 L875.31,902.03 L876.74,902.32 L877.93,902.52 L879.14,902.21 L880.45,901.60 L881.81,900.85 L883.20,899.90 L884.59,899.13 L885.95,898.36 L887.25,897.52 L888.46,896.99 L889.55,896.84 L890.74,896.09 L891.99,896.59 L893.32,895.94 L894.72,896.25 L896.17,896.77 L897.69,896.25 L899.27,896.56 L900.90,896.43 L901.99,896.75 L903.33,896.73 L904.87,896.03 L906.58,896.04 L908.40,896.20 L910.30,895.74 L912.22,895.31 L914.13,895.58 L915.97,895.08 L917.71,895.07 L919.30,894.57 L920.69,895.33 L921.84,895.02 L922.70,895.13 L924.77,895.82 L925.29,897.32 L925.68,898.13 L926.60,897.41 L927.64,896.01 L928.56,894.90 L929.46,894.10 L930.48,893.28 L931.44,893.39 L932.25,894.11 L933.24,895.54 L934.23,897.05 L935.05,898.10 L936.07,899.42 L937.18,900.87 L938.02,899.70 L938.15,898.94 L938.28,897.81 L938.39,896.38 L938.51,894.71 L938.62,892.88 L938.73,890.94 L938.83,888.97 L938.93,887.04 L939.04,885.21 L939.14,883.55 L939.24,882.14 L939.35,881.03 L939.46,880.30 L940.11,879.80 L940.91,881.31 L941.62,882.80 L942.26,883.73 L943.00,884.87 L943.78,886.00 L944.55,887.20 L945.56,888.80 L946.60,890.20 L947.48,890.79 L948.32,890.08 L949.28,888.48 L950.25,886.84 L951.08,885.88 L951.90,886.18 L952.84,887.11 L953.81,888.21 L954.68,889.20 L955.42,890.05 L956.31,891.17 L957.27,892.36 L958.22,893.40 L959.10,894.21 L960.38,894.53 L961.98,894.49 L963.58,894.55 L964.86,894.78 L965.91,894.43 L967.00,893.51 L968.12,892.65 L969.28,892.65 L970.21,893.01 L971.39,893.56 L972.71,894.51 L974.08,895.42 L975.40,895.95 L976.58,896.36 L977.85,896.12 L979.43,895.71 L981.13,895.26 L982.79,894.58 L984.25,893.74 L985.32,893.91 L986.09,894.83 L986.77,896.16 L987.37,897.78 L987.92,899.39 L988.43,900.66 L988.92,901.02 L989.74,901.01 L990.68,899.86 L991.64,898.43 L992.52,897.30 L993.47,896.31 L994.62,895.14 L995.82,894.04 L996.94,893.31 L998.14,892.85 L999.60,893.23 L1001.18,892.65 L1002.70,892.68 L1003.90,892.11 L1005.44,891.49 L1007.14,890.61 L1008.83,890.01 L1010.32,889.27 L1011.44,889.33 L1012.46,889.71 L1013.42,890.77 L1014.30,892.06 L1015.12,893.28 L1015.86,894.08 L1017.28,894.90 L1018.89,895.12 L1020.18,895.70 L1020.94,897.07 L1021.73,899.11 L1022.46,900.84 L1023.06,901.13 L1023.33,900.60 L1023.57,899.23 L1023.81,897.43 L1024.07,895.45 L1024.39,893.52 L1024.80,891.89 L1025.32,890.80 L1026.23,889.94 L1027.52,889.31 L1029.03,888.96 L1030.59,888.57 L1032.05,888.42 L1033.24,888.65 L1034.30,888.81 L1035.43,889.40 L1036.64,890.16 L1037.89,891.07 L1039.20,891.97 L1040.54,892.34 L1041.55,893.04 L1042.75,892.88 L1044.10,893.66 L1045.57,893.52 L1047.13,894.25 L1048.75,894.53 L1050.39,894.40 L1052.02,895.03 L1053.60,894.63 L1054.70,895.27 L1055.97,894.97 L1057.39,895.10 L1058.93,894.90 L1060.57,895.38 L1062.28,895.16 L1064.04,895.56 L1065.82,895.73 L1067.59,895.61 L1069.34,895.14 L1071.03,896.00 L1072.63,896.01 L1074.13,895.80 L1075.50,895.59 L1076.78,895.77 L1078.21,896.05 L1079.76,895.66 L1081.40,895.93 L1083.12,895.74 L1084.88,895.55 L1086.67,895.98 L1088.45,895.49 L1090.20,895.64 L1091.90,895.13 L1093.52,895.51 L1095.04,895.14 L1096.43,895.75 L1097.67,895.21 L1098.74,895.34 L1100.37,895.61 L1102.00,895.95 L1103.63,896.56 L1105.22,896.88 L1106.75,897.27 L1108.20,898.10 L1109.54,898.47 L1110.75,898.70 L1111.80,899.08 L1113.32,899.48 L1114.93,899.53 L1116.53,900.28 L1118.06,900.35 L1119.42,900.94 L1120.54,901.23 L1121.77,901.57 L1123.05,902.32 L1124.31,902.88 L1125.45,903.54 L1126.40,904.60 L1126.87,905.42 L1127.37,906.50 L1127.88,907.77 L1128.41,909.18 L1128.92,910.70 L1129.43,912.25 L1129.90,913.81 L1130.34,915.31 L1130.72,916.70 L1131.00,917.86 L1131.30,919.30 L1131.61,920.96 L1131.94,922.77 L1132.27,924.66 L1132.60,926.56 L1132.94,928.40 L1133.26,930.12 L1133.58,931.65 L1133.88,932.92 L1134.16,933.86 L1134.41,934.42 L1134.95,934.44 L1135.55,933.47 L1136.18,931.85 L1136.83,929.91 L1137.45,927.98 L1138.02,926.40 L1138.46,925.26 L1138.98,923.82 L1139.54,922.21 L1140.14,920.52 L1140.74,918.85 L1141.32,917.33 L1141.87,916.04 L1142.34,915.10 L1143.25,913.84 L1144.26,912.95 L1145.41,912.36 L1146.76,911.62 L1147.83,911.54 L1149.27,911.43 L1150.93,911.30 L1152.68,911.48 L1154.36,911.34 L1155.83,910.69 L1156.94,910.89 L1158.33,910.81 L1159.54,911.03 L1160.76,911.43 L1162.16,911.92 L1163.25,912.58 L1164.66,912.98 L1166.28,913.58 L1167.99,913.89 L1169.68,914.40 L1171.23,915.36 L1172.52,915.75 L1173.76,916.29 L1175.17,916.48 L1176.66,917.29 L1178.16,918.04 L1179.59,918.71 L1180.86,919.34 L1181.89,919.62 L1183.16,920.00 L1184.46,920.19 L1185.74,921.02 L1186.97,921.52 L1188.11,922.00 L1189.14,922.61 L1190.38,923.54 L1191.73,924.63 L1193.08,925.75 L1194.34,926.81 L1195.41,927.70 L1196.40,928.64 L1197.50,929.83 L1198.65,931.07 L1199.84,932.20 L1201.02,933.13 L1202.16,933.74 L1203.28,933.40 L1204.67,932.88 L1206.23,932.15 L1207.85,931.28 L1209.44,930.35 L1210.88,929.43 L1212.07,928.86 L1213.18,928.06 L1214.39,927.31 L1215.66,926.38 L1216.93,925.46 L1218.18,924.58 L1219.33,923.75 L1220.36,923.20 L1221.58,922.32 L1222.97,921.46 L1224.45,920.93 L1225.94,919.97 L1227.37,919.32 L1228.65,918.95 L1230.01,918.80 L1231.63,918.93 L1233.38,918.61 L1235.12,918.22 L1236.72,918.44 L1238.02,918.46 L1239.43,918.70 L1240.95,918.97 L1242.49,919.30 L1243.97,920.02 L1245.32,920.78 L1246.19,921.44 L1247.23,922.31 L1248.38,923.33 L1249.56,924.45 L1250.74,925.62 L1251.84,926.77 L1252.82,927.85 L1253.60,928.80 L1254.41,929.90 L1255.25,931.17 L1256.09,932.56 L1256.91,934.00 L1257.66,935.45 L1258.31,936.83 L1258.83,938.10 L1259.21,939.22 L1259.58,940.48 L1259.94,941.86 L1260.27,943.34 L1260.58,944.87 L1260.87,946.44 L1261.13,948.03 L1261.35,949.60 L1261.48,950.63 L1261.61,951.79 L1261.75,953.06 L1261.88,954.44 L1262.01,955.91 L1262.15,957.45 L1262.28,959.05 L1262.41,960.71 L1262.53,962.39 L1262.65,964.10 L1262.76,965.81 L1262.87,967.52 L1262.97,969.20 L1263.03,970.25 L1263.09,971.43 L1263.16,972.73 L1263.23,974.13 L1263.30,975.62 L1263.37,977.20 L1263.44,978.84 L1263.52,980.54 L1263.59,982.28 L1263.67,984.06 L1263.74,985.87 L1263.82,987.68 L1263.89,989.49 L1263.97,991.29 L1264.04,993.06 L1264.12,994.80 L1264.19,996.48 L1264.26,998.11 L1264.32,999.67 L1264.39,1001.15 L1264.45,1002.53 L1264.50,1003.80 L1264.57,1005.13 L1264.63,1006.55 L1264.70,1008.07 L1264.77,1009.65 L1264.85,1011.30 L1264.93,1013.00 L1265.01,1014.74 L1265.09,1016.50 L1265.17,1018.27 L1265.25,1020.05 L1265.33,1021.81 L1265.42,1023.55 L1265.50,1025.25 L1265.57,1026.91 L1265.65,1028.50 L1265.73,1030.02 L1265.80,1031.46 L1265.86,1032.79 L1265.93,1034.02 L1265.98,1035.13 L1266.04,1036.10 L1266.14,1037.98 L1266.23,1039.84 L1266.32,1041.64 L1266.40,1043.37 L1266.50,1045.01 L1266.59,1046.54 L1266.70,1047.93 L1266.82,1049.17 L1266.96,1050.23 L1267.12,1051.10 L1267.74,1052.82 L1268.62,1054.11 L1269.54,1054.99 L1270.27,1055.10 L1270.89,1054.75 L1271.56,1053.85 L1272.22,1052.28 L1272.79,1049.90 L1272.93,1049.03 L1273.08,1047.94 L1273.24,1046.65 L1273.40,1045.21 L1273.57,1043.63 L1273.75,1041.95 L1273.93,1040.19 L1274.11,1038.39 L1274.29,1036.57 L1274.48,1034.76 L1274.67,1032.99 L1274.85,1031.29 L1275.04,1029.69 L1275.22,1028.22 L1275.41,1026.90 L1275.60,1025.62 L1275.83,1024.25 L1276.09,1022.80 L1276.37,1021.29 L1276.66,1019.72 L1276.97,1018.11 L1277.29,1016.47 L1277.61,1014.81 L1277.93,1013.15 L1278.24,1011.50 L1278.54,1009.87 L1278.83,1008.27 L1279.10,1006.72 L1279.34,1005.22 L1279.55,1003.80 L1279.71,1002.64 L1279.87,1001.34 L1280.04,999.94 L1280.21,998.43 L1280.39,996.84 L1280.57,995.19 L1280.75,993.48 L1280.93,991.75 L1281.11,989.99 L1281.29,988.23 L1281.47,986.49 L1281.65,984.78 L1281.82,983.11 L1281.98,981.51 L1282.14,979.99 L1282.29,978.56 L1282.44,977.24 L1282.58,976.05 L1282.70,975.00 L1282.91,973.29 L1283.12,971.54 L1283.33,969.76 L1283.55,967.98 L1283.77,966.23 L1284.00,964.53 L1284.24,962.91 L1284.48,961.40 L1284.75,960.00 L1285.02,958.76 L1285.32,957.70 L1285.89,956.17 L1286.62,954.63 L1287.47,953.13 L1288.38,951.72 L1289.30,950.43 L1290.19,949.31 L1290.99,948.40 L1292.03,947.43 L1293.33,946.45 L1294.74,945.43 L1296.13,944.61 L1297.36,944.09 L1298.29,943.92 L1299.35,944.00 L1300.32,944.63 L1301.18,945.76 L1301.89,947.30 L1302.18,948.21 L1302.49,949.37 L1302.81,950.74 L1303.14,952.28 L1303.46,953.95 L1303.77,955.71 L1304.05,957.52 L1304.30,959.33 L1304.50,961.10 L1304.61,962.19 L1304.71,963.48 L1304.81,964.94 L1304.92,966.54 L1305.02,968.25 L1305.12,970.06 L1305.22,971.91 L1305.32,973.80 L1305.42,975.69 L1305.51,977.54 L1305.61,979.35 L1305.70,981.06 L1305.79,982.66 L1305.87,984.12 L1305.96,985.41 L1306.04,986.50 L1306.18,988.30 L1306.35,990.17 L1306.52,992.06 L1306.70,993.90 L1306.89,995.63 L1307.08,997.20 L1307.27,998.54 L1307.47,999.59 L1307.66,1000.30 L1308.46,1000.74 L1309.47,999.96 L1310.27,998.00 L1310.44,997.11 L1310.60,995.88 L1310.77,994.38 L1310.93,992.70 L1311.09,990.90 L1311.25,989.07 L1311.40,987.29 L1311.54,985.63 L1311.67,984.18 L1311.80,983.00 L1311.99,981.54 L1312.19,980.05 L1312.40,978.55 L1312.63,977.05 L1312.86,975.56 L1313.10,974.11 L1313.33,972.70 L1313.54,971.45 L1313.78,969.93 L1314.06,968.21 L1314.35,966.39 L1314.67,964.55 L1314.99,962.78 L1315.32,961.18 L1315.64,959.82 L1315.95,958.80 L1316.74,957.21 L1317.73,956.03 L1318.87,955.08 L1320.09,954.15 L1321.16,953.55 L1322.58,952.55 L1324.19,951.77 L1325.81,950.83 L1327.27,949.94 L1328.38,949.86 L1329.69,948.97 L1330.98,949.84 L1332.20,949.48 L1333.33,949.98 L1334.36,950.56 L1335.61,951.07 L1336.93,952.02 L1338.17,952.33 L1339.19,953.07 L1340.32,952.36 L1341.53,952.11 L1342.76,951.33 L1343.96,950.66 L1344.87,950.11 L1346.00,949.28 L1347.24,948.35 L1348.52,947.51 L1349.74,946.67 L1350.81,946.18 L1352.20,946.51 L1353.89,946.44 L1355.67,947.25 L1357.29,947.46 L1358.56,947.99 L1359.51,948.65 L1360.40,949.57 L1361.30,950.58 L1362.29,951.54 L1363.42,952.35 L1364.53,952.98 L1366.01,953.24 L1367.70,953.92 L1369.49,954.22 L1371.24,954.53 L1372.80,955.15 L1374.05,955.64 L1375.58,955.97 L1377.17,956.22 L1378.77,956.20 L1380.34,956.19 L1381.80,956.62 L1382.79,957.09 L1383.98,957.78 L1385.29,958.64 L1386.67,959.54 L1388.04,960.53 L1389.36,961.44 L1390.54,962.33 L1391.53,963.10 L1392.59,963.98 L1393.75,964.99 L1394.95,966.09 L1396.15,967.25 L1397.31,968.41 L1398.36,969.54 L1399.28,970.60 L1400.06,971.64 L1400.93,972.93 L1401.86,974.37 L1402.80,975.88 L1403.73,977.37 L1404.60,978.75 L1405.38,979.92 L1406.04,980.80 L1407.25,982.15 L1408.51,983.32 L1409.76,984.14 L1410.90,984.55 L1412.20,984.50 L1413.78,983.71 L1415.39,983.10 L1416.76,982.17 L1418.13,982.07 L1419.74,981.55 L1421.30,980.85 L1422.52,980.37 L1423.75,980.84 L1424.98,981.46 L1426.40,982.42 L1427.22,983.12 L1428.31,984.17 L1429.55,985.41 L1430.85,986.73 L1432.13,988.01 L1433.29,989.14 L1434.23,990.00 L1435.40,991.09 L1436.64,992.30 L1437.91,993.41 L1439.19,994.01 L1440.45,994.67 L1441.36,994.02 L1442.49,993.22 L1443.77,992.31 L1445.11,991.21 L1446.46,990.05 L1447.72,988.95 L1448.84,988.00 L1449.73,987.29 L1450.93,986.48 L1452.11,985.71 L1453.27,985.05 L1454.40,984.19 L1455.50,983.47 L1456.41,982.82 L1457.55,981.91 L1458.81,980.90 L1460.11,979.88 L1461.34,978.90 L1462.42,978.12 L1463.24,977.49 L1464.73,976.81 L1466.05,977.34 L1467.12,977.17 L1468.09,978.00 L1469.12,979.28 L1470.09,979.86 L1470.71,979.10 L1471.44,977.99 L1472.25,976.59 L1473.10,975.11 L1473.96,973.80 L1474.68,972.83 L1475.59,971.64 L1476.61,970.30 L1477.70,968.91 L1478.78,967.54 L1479.81,966.28 L1480.72,965.20 L1481.53,964.27 L1482.49,963.20 L1483.54,962.04 L1484.64,960.86 L1485.73,959.71 L1486.76,958.66 L1487.69,957.77 L1488.47,957.10 L1489.61,956.27 L1490.83,955.53 L1492.06,955.05 L1493.24,954.29 L1494.32,954.31 L1495.28,954.73 L1496.42,955.62 L1497.65,956.66 L1498.90,957.67 L1500.07,958.34 L1501.08,959.18 L1502.28,958.64 L1503.64,957.53 L1505.09,956.44 L1506.55,955.38 L1507.93,955.15 L1509.01,955.26 L1510.33,954.71 L1511.80,954.90 L1513.34,955.57 L1514.86,955.78 L1516.30,955.95 L1517.57,956.32 L1518.68,956.76 L1519.97,957.14 L1521.38,957.64 L1522.84,958.27 L1524.31,958.72 L1525.71,959.38 L1527.00,960.14 L1528.11,961.00 L1528.97,961.82 L1529.92,962.87 L1530.93,964.11 L1531.99,965.49 L1533.06,966.94 L1534.11,968.42 L1535.13,969.88 L1536.07,971.27 L1536.93,972.52 L1537.66,973.60 L1538.42,974.78 L1539.24,976.13 L1540.07,977.58 L1540.92,979.08 L1541.77,980.57 L1542.58,981.99 L1543.35,983.27 L1544.06,984.36 L1544.68,985.20 L1545.83,986.39 L1547.09,987.44 L1548.40,988.32 L1549.64,988.84 L1550.72,989.36 L1551.84,988.91 L1553.14,988.05 L1554.50,987.18 L1555.78,986.37 L1556.85,985.58 L1558.14,985.24 L1559.59,984.55 L1560.98,983.74 L1562.07,983.64 L1562.95,984.10 L1563.83,984.88 L1564.71,985.91 L1565.59,987.20 L1566.09,988.11 L1566.71,989.35 L1567.41,990.83 L1568.15,992.43 L1568.90,994.03 L1569.62,995.53 L1570.27,996.83 L1570.81,997.80 L1571.66,999.08 L1572.62,1000.34 L1573.59,1001.46 L1574.49,1002.30 L1575.23,1003.00 L1576.37,1002.59 L1577.58,1001.42 L1578.65,999.80 L1579.02,998.92 L1579.44,997.69 L1579.89,996.23 L1580.36,994.64 L1580.83,993.03 L1581.30,991.50 L1581.75,990.16 L1582.16,989.10 L1582.78,987.84 L1583.52,986.49 L1584.33,985.14 L1585.15,983.92 L1585.92,982.93 L1586.58,982.17 L1587.96,981.63 L1589.52,982.23 L1590.90,982.90 L1591.92,983.55 L1593.11,984.66 L1594.30,985.95 L1595.32,987.20 L1595.95,988.15 L1596.67,989.38 L1597.44,990.75 L1598.21,992.13 L1598.96,993.39 L1599.64,994.40 L1600.55,995.59 L1601.66,996.97 L1602.84,998.30 L1603.95,999.33 L1604.86,1000.13 L1605.97,999.24 L1607.20,997.83 L1608.37,996.43 L1609.28,995.56 L1609.95,996.59 L1610.59,998.02 L1611.23,999.85 L1611.89,1001.70 L1612.31,1002.82 L1612.83,1004.35 L1613.42,1006.12 L1614.05,1007.99 L1614.69,1009.79 L1615.28,1011.38 L1615.80,1012.60 L1616.22,1013.32 L1617.17,1013.53 L1618.10,1012.13 L1618.83,1009.40 L1618.96,1008.53 L1619.09,1007.41 L1619.22,1006.05 L1619.36,1004.52 L1619.50,1002.84 L1619.64,1001.07 L1619.77,999.23 L1619.91,997.37 L1620.04,995.54 L1620.17,993.76 L1620.30,992.09 L1620.41,990.56 L1620.53,989.22 L1620.63,988.10 L1620.79,986.50 L1620.97,984.82 L1621.15,983.11 L1621.35,981.41 L1621.55,979.76 L1621.75,978.21 L1621.95,976.81 L1622.15,975.59 L1622.34,974.60 L1622.83,972.84 L1623.43,971.36 L1624.14,970.05 L1624.95,968.80 L1625.72,967.77 L1626.75,966.47 L1627.93,965.06 L1629.13,963.74 L1630.22,962.66 L1631.08,961.94 L1632.54,961.57 L1634.03,961.81 L1635.41,962.90 L1636.15,963.69 L1637.07,964.83 L1638.06,966.22 L1639.04,967.73 L1639.93,969.26 L1640.63,970.70 L1641.03,971.71 L1641.44,972.90 L1641.85,974.23 L1642.27,975.67 L1642.68,977.19 L1643.08,978.74 L1643.46,980.30 L1643.82,981.83 L1644.14,983.30 L1644.38,984.37 L1644.63,985.61 L1644.91,986.99 L1645.21,988.48 L1645.52,990.05 L1645.83,991.69 L1646.14,993.36 L1646.44,995.04 L1646.73,996.71 L1647.00,998.33 L1647.25,999.89 L1647.47,1001.35 L1647.66,1002.70 L1647.81,1004.01 L1647.98,1005.52 L1648.14,1007.20 L1648.30,1009.01 L1648.47,1010.90 L1648.63,1012.83 L1648.78,1014.77 L1648.93,1016.67 L1649.06,1018.48 L1649.19,1020.17 L1649.30,1021.70 L1649.40,1023.03 L1649.49,1024.11 L1649.55,1024.90"/>
</g></g>
<g font-size="56" fill="#000">
<text transform="translate(78.50,1327.7) scale(1.02,1)" text-anchor="middle">4000</text>
<text transform="translate(340.28,1327.7) scale(1.02,1)" text-anchor="middle">3500</text>
<text transform="translate(602.07,1327.7) scale(1.02,1)" text-anchor="middle">3000</text>
<text transform="translate(863.85,1327.7) scale(1.02,1)" text-anchor="middle">2500</text>
<text transform="translate(1125.63,1327.7) scale(1.02,1)" text-anchor="middle">2000</text>
<text transform="translate(1387.42,1327.7) scale(1.02,1)" text-anchor="middle">1500</text>
<text transform="translate(1649.20,1327.7) scale(1.02,1)" text-anchor="middle">1000</text>
</g>
<text transform="translate(129.67,204.90) scale(1.0286,1)" font-size="55.10" fill="#000">Montmorillonite</text>
<text transform="translate(125.67,422.90) scale(1.0299,1)" font-size="55.00" fill="#ff0000">Bio-asphalt</text>
<text transform="translate(107.57,851.00) scale(1.0274,1)" font-size="55.10" fill="#000">Montmorillonite modified bio-asphalt</text>
<text transform="translate(1504.35,1205.20) scale(0.9903,1)" font-size="56.20" fill="#ff0000">1580.08</text>
<text transform="translate(699.90,1440.90) scale(1.0488,1)" font-size="67.00" fill="#000">Wavelength(cm</text>
<text transform="translate(1187.91,1440.90) scale(1.0989,1)" font-size="66.50" fill="#000">)</text>
<text transform="translate(1166.50,1413.9)" font-size="46.70" fill="#000">1</text>
<text transform="translate(1138.68,1420.60)" font-size="52.70" fill="#000">&#8722;</text>
</svg>
</body></html>
